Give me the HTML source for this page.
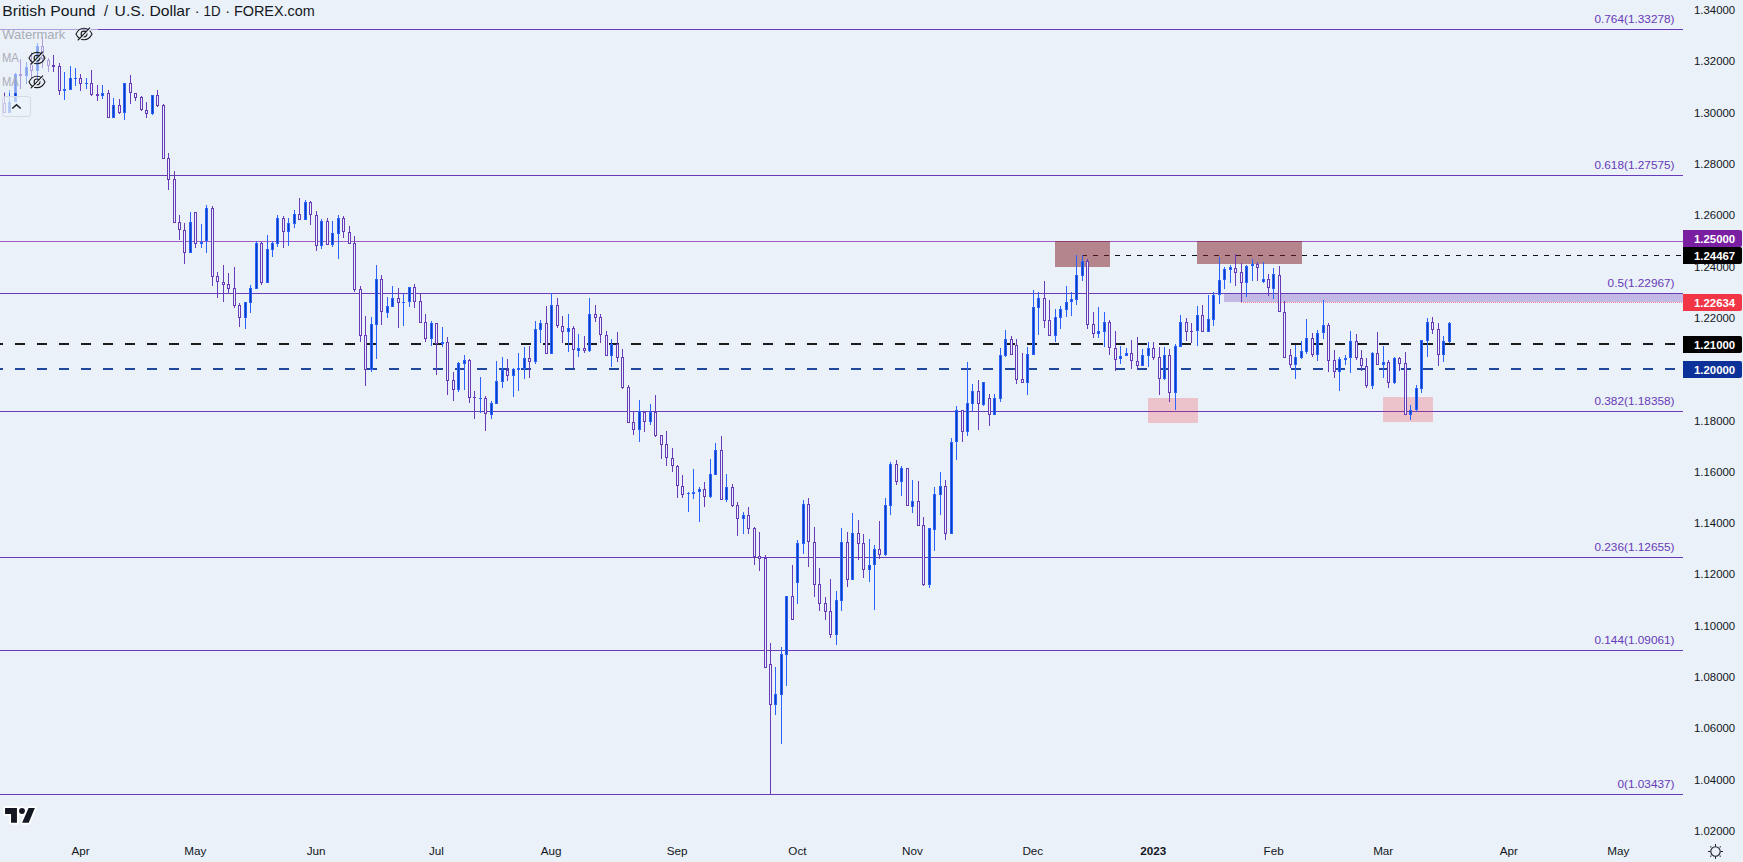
<!DOCTYPE html>
<html><head><meta charset="utf-8"><title>GBPUSD</title>
<style>html,body{margin:0;padding:0;background:#eaf1f9;}body{width:1743px;height:862px;overflow:hidden;position:relative;font-family:"Liberation Sans", Arial, sans-serif;}</style>
</head><body>
<svg width="1743" height="862" viewBox="0 0 1743 862" style="position:absolute;left:0;top:0" font-family="'Liberation Sans', Arial, sans-serif">
<rect x="0" y="0" width="1743" height="862" fill="#eaf1f9"/>
<g shape-rendering="crispEdges">
<rect x="0" y="241" width="1683" height="1" fill="#a05cc4"/>
<rect x="0" y="343" width="3" height="2" fill="#1c1c1c"/><rect x="15" y="343" width="10" height="2" fill="#1c1c1c"/><rect x="37" y="343" width="10" height="2" fill="#1c1c1c"/><rect x="59" y="343" width="10" height="2" fill="#1c1c1c"/><rect x="81" y="343" width="10" height="2" fill="#1c1c1c"/><rect x="103" y="343" width="10" height="2" fill="#1c1c1c"/><rect x="125" y="343" width="10" height="2" fill="#1c1c1c"/><rect x="147" y="343" width="10" height="2" fill="#1c1c1c"/><rect x="169" y="343" width="10" height="2" fill="#1c1c1c"/><rect x="191" y="343" width="10" height="2" fill="#1c1c1c"/><rect x="213" y="343" width="10" height="2" fill="#1c1c1c"/><rect x="235" y="343" width="10" height="2" fill="#1c1c1c"/><rect x="257" y="343" width="10" height="2" fill="#1c1c1c"/><rect x="279" y="343" width="10" height="2" fill="#1c1c1c"/><rect x="301" y="343" width="10" height="2" fill="#1c1c1c"/><rect x="323" y="343" width="10" height="2" fill="#1c1c1c"/><rect x="345" y="343" width="10" height="2" fill="#1c1c1c"/><rect x="367" y="343" width="10" height="2" fill="#1c1c1c"/><rect x="389" y="343" width="10" height="2" fill="#1c1c1c"/><rect x="411" y="343" width="10" height="2" fill="#1c1c1c"/><rect x="433" y="343" width="10" height="2" fill="#1c1c1c"/><rect x="455" y="343" width="10" height="2" fill="#1c1c1c"/><rect x="477" y="343" width="10" height="2" fill="#1c1c1c"/><rect x="499" y="343" width="10" height="2" fill="#1c1c1c"/><rect x="521" y="343" width="10" height="2" fill="#1c1c1c"/><rect x="543" y="343" width="10" height="2" fill="#1c1c1c"/><rect x="565" y="343" width="10" height="2" fill="#1c1c1c"/><rect x="587" y="343" width="10" height="2" fill="#1c1c1c"/><rect x="609" y="343" width="10" height="2" fill="#1c1c1c"/><rect x="631" y="343" width="10" height="2" fill="#1c1c1c"/><rect x="653" y="343" width="10" height="2" fill="#1c1c1c"/><rect x="675" y="343" width="10" height="2" fill="#1c1c1c"/><rect x="697" y="343" width="10" height="2" fill="#1c1c1c"/><rect x="719" y="343" width="10" height="2" fill="#1c1c1c"/><rect x="741" y="343" width="10" height="2" fill="#1c1c1c"/><rect x="763" y="343" width="10" height="2" fill="#1c1c1c"/><rect x="785" y="343" width="10" height="2" fill="#1c1c1c"/><rect x="807" y="343" width="10" height="2" fill="#1c1c1c"/><rect x="829" y="343" width="10" height="2" fill="#1c1c1c"/><rect x="851" y="343" width="10" height="2" fill="#1c1c1c"/><rect x="873" y="343" width="10" height="2" fill="#1c1c1c"/><rect x="895" y="343" width="10" height="2" fill="#1c1c1c"/><rect x="917" y="343" width="10" height="2" fill="#1c1c1c"/><rect x="939" y="343" width="10" height="2" fill="#1c1c1c"/><rect x="961" y="343" width="10" height="2" fill="#1c1c1c"/><rect x="983" y="343" width="10" height="2" fill="#1c1c1c"/><rect x="1005" y="343" width="10" height="2" fill="#1c1c1c"/><rect x="1027" y="343" width="10" height="2" fill="#1c1c1c"/><rect x="1049" y="343" width="10" height="2" fill="#1c1c1c"/><rect x="1071" y="343" width="10" height="2" fill="#1c1c1c"/><rect x="1093" y="343" width="10" height="2" fill="#1c1c1c"/><rect x="1115" y="343" width="10" height="2" fill="#1c1c1c"/><rect x="1137" y="343" width="10" height="2" fill="#1c1c1c"/><rect x="1159" y="343" width="10" height="2" fill="#1c1c1c"/><rect x="1181" y="343" width="10" height="2" fill="#1c1c1c"/><rect x="1203" y="343" width="10" height="2" fill="#1c1c1c"/><rect x="1225" y="343" width="10" height="2" fill="#1c1c1c"/><rect x="1247" y="343" width="10" height="2" fill="#1c1c1c"/><rect x="1269" y="343" width="10" height="2" fill="#1c1c1c"/><rect x="1291" y="343" width="10" height="2" fill="#1c1c1c"/><rect x="1313" y="343" width="10" height="2" fill="#1c1c1c"/><rect x="1335" y="343" width="10" height="2" fill="#1c1c1c"/><rect x="1357" y="343" width="10" height="2" fill="#1c1c1c"/><rect x="1379" y="343" width="10" height="2" fill="#1c1c1c"/><rect x="1401" y="343" width="10" height="2" fill="#1c1c1c"/><rect x="1423" y="343" width="10" height="2" fill="#1c1c1c"/><rect x="1445" y="343" width="10" height="2" fill="#1c1c1c"/><rect x="1467" y="343" width="10" height="2" fill="#1c1c1c"/><rect x="1489" y="343" width="10" height="2" fill="#1c1c1c"/><rect x="1511" y="343" width="10" height="2" fill="#1c1c1c"/><rect x="1533" y="343" width="10" height="2" fill="#1c1c1c"/><rect x="1555" y="343" width="10" height="2" fill="#1c1c1c"/><rect x="1577" y="343" width="10" height="2" fill="#1c1c1c"/><rect x="1599" y="343" width="10" height="2" fill="#1c1c1c"/><rect x="1621" y="343" width="10" height="2" fill="#1c1c1c"/><rect x="1643" y="343" width="10" height="2" fill="#1c1c1c"/><rect x="1665" y="343" width="10" height="2" fill="#1c1c1c"/>
<rect x="0" y="368" width="3" height="2" fill="#22479e"/><rect x="15" y="368" width="10" height="2" fill="#22479e"/><rect x="37" y="368" width="10" height="2" fill="#22479e"/><rect x="59" y="368" width="10" height="2" fill="#22479e"/><rect x="81" y="368" width="10" height="2" fill="#22479e"/><rect x="103" y="368" width="10" height="2" fill="#22479e"/><rect x="125" y="368" width="10" height="2" fill="#22479e"/><rect x="147" y="368" width="10" height="2" fill="#22479e"/><rect x="169" y="368" width="10" height="2" fill="#22479e"/><rect x="191" y="368" width="10" height="2" fill="#22479e"/><rect x="213" y="368" width="10" height="2" fill="#22479e"/><rect x="235" y="368" width="10" height="2" fill="#22479e"/><rect x="257" y="368" width="10" height="2" fill="#22479e"/><rect x="279" y="368" width="10" height="2" fill="#22479e"/><rect x="301" y="368" width="10" height="2" fill="#22479e"/><rect x="323" y="368" width="10" height="2" fill="#22479e"/><rect x="345" y="368" width="10" height="2" fill="#22479e"/><rect x="367" y="368" width="10" height="2" fill="#22479e"/><rect x="389" y="368" width="10" height="2" fill="#22479e"/><rect x="411" y="368" width="10" height="2" fill="#22479e"/><rect x="433" y="368" width="10" height="2" fill="#22479e"/><rect x="455" y="368" width="10" height="2" fill="#22479e"/><rect x="477" y="368" width="10" height="2" fill="#22479e"/><rect x="499" y="368" width="10" height="2" fill="#22479e"/><rect x="521" y="368" width="10" height="2" fill="#22479e"/><rect x="543" y="368" width="10" height="2" fill="#22479e"/><rect x="565" y="368" width="10" height="2" fill="#22479e"/><rect x="587" y="368" width="10" height="2" fill="#22479e"/><rect x="609" y="368" width="10" height="2" fill="#22479e"/><rect x="631" y="368" width="10" height="2" fill="#22479e"/><rect x="653" y="368" width="10" height="2" fill="#22479e"/><rect x="675" y="368" width="10" height="2" fill="#22479e"/><rect x="697" y="368" width="10" height="2" fill="#22479e"/><rect x="719" y="368" width="10" height="2" fill="#22479e"/><rect x="741" y="368" width="10" height="2" fill="#22479e"/><rect x="763" y="368" width="10" height="2" fill="#22479e"/><rect x="785" y="368" width="10" height="2" fill="#22479e"/><rect x="807" y="368" width="10" height="2" fill="#22479e"/><rect x="829" y="368" width="10" height="2" fill="#22479e"/><rect x="851" y="368" width="10" height="2" fill="#22479e"/><rect x="873" y="368" width="10" height="2" fill="#22479e"/><rect x="895" y="368" width="10" height="2" fill="#22479e"/><rect x="917" y="368" width="10" height="2" fill="#22479e"/><rect x="939" y="368" width="10" height="2" fill="#22479e"/><rect x="961" y="368" width="10" height="2" fill="#22479e"/><rect x="983" y="368" width="10" height="2" fill="#22479e"/><rect x="1005" y="368" width="10" height="2" fill="#22479e"/><rect x="1027" y="368" width="10" height="2" fill="#22479e"/><rect x="1049" y="368" width="10" height="2" fill="#22479e"/><rect x="1071" y="368" width="10" height="2" fill="#22479e"/><rect x="1093" y="368" width="10" height="2" fill="#22479e"/><rect x="1115" y="368" width="10" height="2" fill="#22479e"/><rect x="1137" y="368" width="10" height="2" fill="#22479e"/><rect x="1159" y="368" width="10" height="2" fill="#22479e"/><rect x="1181" y="368" width="10" height="2" fill="#22479e"/><rect x="1203" y="368" width="10" height="2" fill="#22479e"/><rect x="1225" y="368" width="10" height="2" fill="#22479e"/><rect x="1247" y="368" width="10" height="2" fill="#22479e"/><rect x="1269" y="368" width="10" height="2" fill="#22479e"/><rect x="1291" y="368" width="10" height="2" fill="#22479e"/><rect x="1313" y="368" width="10" height="2" fill="#22479e"/><rect x="1335" y="368" width="10" height="2" fill="#22479e"/><rect x="1357" y="368" width="10" height="2" fill="#22479e"/><rect x="1379" y="368" width="10" height="2" fill="#22479e"/><rect x="1401" y="368" width="10" height="2" fill="#22479e"/><rect x="1423" y="368" width="10" height="2" fill="#22479e"/><rect x="1445" y="368" width="10" height="2" fill="#22479e"/><rect x="1467" y="368" width="10" height="2" fill="#22479e"/><rect x="1489" y="368" width="10" height="2" fill="#22479e"/><rect x="1511" y="368" width="10" height="2" fill="#22479e"/><rect x="1533" y="368" width="10" height="2" fill="#22479e"/><rect x="1555" y="368" width="10" height="2" fill="#22479e"/><rect x="1577" y="368" width="10" height="2" fill="#22479e"/><rect x="1599" y="368" width="10" height="2" fill="#22479e"/><rect x="1621" y="368" width="10" height="2" fill="#22479e"/><rect x="1643" y="368" width="10" height="2" fill="#22479e"/><rect x="1665" y="368" width="10" height="2" fill="#22479e"/>
</g>
<g shape-rendering="crispEdges">
<rect x="0" y="29" width="1683" height="1" fill="#673ab7"/>
<rect x="0" y="175" width="1683" height="1" fill="#673ab7"/>
<rect x="0" y="293" width="1683" height="1" fill="#673ab7"/>
<rect x="0" y="411" width="1683" height="1" fill="#673ab7"/>
<rect x="0" y="557" width="1683" height="1" fill="#673ab7"/>
<rect x="0" y="650" width="1683" height="1" fill="#673ab7"/>
<rect x="0" y="794" width="1683" height="1" fill="#673ab7"/>
<rect x="1224" y="294" width="459" height="8" fill="rgba(103,58,183,0.3)"/>
<rect x="1241" y="302" width="1" height="1" fill="#f23645" fill-opacity="0.6"/><rect x="1243" y="302" width="1" height="1" fill="#f23645" fill-opacity="0.6"/><rect x="1245" y="302" width="1" height="1" fill="#f23645" fill-opacity="0.6"/><rect x="1247" y="302" width="1" height="1" fill="#f23645" fill-opacity="0.6"/><rect x="1249" y="302" width="1" height="1" fill="#f23645" fill-opacity="0.6"/><rect x="1251" y="302" width="1" height="1" fill="#f23645" fill-opacity="0.6"/><rect x="1253" y="302" width="1" height="1" fill="#f23645" fill-opacity="0.6"/><rect x="1255" y="302" width="1" height="1" fill="#f23645" fill-opacity="0.6"/><rect x="1257" y="302" width="1" height="1" fill="#f23645" fill-opacity="0.6"/><rect x="1259" y="302" width="1" height="1" fill="#f23645" fill-opacity="0.6"/><rect x="1261" y="302" width="1" height="1" fill="#f23645" fill-opacity="0.6"/><rect x="1263" y="302" width="1" height="1" fill="#f23645" fill-opacity="0.6"/><rect x="1265" y="302" width="1" height="1" fill="#f23645" fill-opacity="0.6"/><rect x="1267" y="302" width="1" height="1" fill="#f23645" fill-opacity="0.6"/><rect x="1269" y="302" width="1" height="1" fill="#f23645" fill-opacity="0.6"/><rect x="1271" y="302" width="1" height="1" fill="#f23645" fill-opacity="0.6"/><rect x="1273" y="302" width="1" height="1" fill="#f23645" fill-opacity="0.6"/><rect x="1275" y="302" width="1" height="1" fill="#f23645" fill-opacity="0.6"/><rect x="1277" y="302" width="1" height="1" fill="#f23645" fill-opacity="0.6"/><rect x="1279" y="302" width="1" height="1" fill="#f23645" fill-opacity="0.6"/><rect x="1281" y="302" width="1" height="1" fill="#f23645" fill-opacity="0.6"/><rect x="1283" y="302" width="1" height="1" fill="#f23645" fill-opacity="0.6"/><rect x="1285" y="302" width="1" height="1" fill="#f23645" fill-opacity="0.6"/><rect x="1287" y="302" width="1" height="1" fill="#f23645" fill-opacity="0.6"/><rect x="1289" y="302" width="1" height="1" fill="#f23645" fill-opacity="0.6"/><rect x="1291" y="302" width="1" height="1" fill="#f23645" fill-opacity="0.6"/><rect x="1293" y="302" width="1" height="1" fill="#f23645" fill-opacity="0.6"/><rect x="1295" y="302" width="1" height="1" fill="#f23645" fill-opacity="0.6"/><rect x="1297" y="302" width="1" height="1" fill="#f23645" fill-opacity="0.6"/><rect x="1299" y="302" width="1" height="1" fill="#f23645" fill-opacity="0.6"/><rect x="1301" y="302" width="1" height="1" fill="#f23645" fill-opacity="0.6"/><rect x="1303" y="302" width="1" height="1" fill="#f23645" fill-opacity="0.6"/><rect x="1305" y="302" width="1" height="1" fill="#f23645" fill-opacity="0.6"/><rect x="1307" y="302" width="1" height="1" fill="#f23645" fill-opacity="0.6"/><rect x="1309" y="302" width="1" height="1" fill="#f23645" fill-opacity="0.6"/><rect x="1311" y="302" width="1" height="1" fill="#f23645" fill-opacity="0.6"/><rect x="1313" y="302" width="1" height="1" fill="#f23645" fill-opacity="0.6"/><rect x="1315" y="302" width="1" height="1" fill="#f23645" fill-opacity="0.6"/><rect x="1317" y="302" width="1" height="1" fill="#f23645" fill-opacity="0.6"/><rect x="1319" y="302" width="1" height="1" fill="#f23645" fill-opacity="0.6"/><rect x="1321" y="302" width="1" height="1" fill="#f23645" fill-opacity="0.6"/><rect x="1323" y="302" width="1" height="1" fill="#f23645" fill-opacity="0.6"/><rect x="1325" y="302" width="1" height="1" fill="#f23645" fill-opacity="0.6"/><rect x="1327" y="302" width="1" height="1" fill="#f23645" fill-opacity="0.6"/><rect x="1329" y="302" width="1" height="1" fill="#f23645" fill-opacity="0.6"/><rect x="1331" y="302" width="1" height="1" fill="#f23645" fill-opacity="0.6"/><rect x="1333" y="302" width="1" height="1" fill="#f23645" fill-opacity="0.6"/><rect x="1335" y="302" width="1" height="1" fill="#f23645" fill-opacity="0.6"/><rect x="1337" y="302" width="1" height="1" fill="#f23645" fill-opacity="0.6"/><rect x="1339" y="302" width="1" height="1" fill="#f23645" fill-opacity="0.6"/><rect x="1341" y="302" width="1" height="1" fill="#f23645" fill-opacity="0.6"/><rect x="1343" y="302" width="1" height="1" fill="#f23645" fill-opacity="0.6"/><rect x="1345" y="302" width="1" height="1" fill="#f23645" fill-opacity="0.6"/><rect x="1347" y="302" width="1" height="1" fill="#f23645" fill-opacity="0.6"/><rect x="1349" y="302" width="1" height="1" fill="#f23645" fill-opacity="0.6"/><rect x="1351" y="302" width="1" height="1" fill="#f23645" fill-opacity="0.6"/><rect x="1353" y="302" width="1" height="1" fill="#f23645" fill-opacity="0.6"/><rect x="1355" y="302" width="1" height="1" fill="#f23645" fill-opacity="0.6"/><rect x="1357" y="302" width="1" height="1" fill="#f23645" fill-opacity="0.6"/><rect x="1359" y="302" width="1" height="1" fill="#f23645" fill-opacity="0.6"/><rect x="1361" y="302" width="1" height="1" fill="#f23645" fill-opacity="0.6"/><rect x="1363" y="302" width="1" height="1" fill="#f23645" fill-opacity="0.6"/><rect x="1365" y="302" width="1" height="1" fill="#f23645" fill-opacity="0.6"/><rect x="1367" y="302" width="1" height="1" fill="#f23645" fill-opacity="0.6"/><rect x="1369" y="302" width="1" height="1" fill="#f23645" fill-opacity="0.6"/><rect x="1371" y="302" width="1" height="1" fill="#f23645" fill-opacity="0.6"/><rect x="1373" y="302" width="1" height="1" fill="#f23645" fill-opacity="0.6"/><rect x="1375" y="302" width="1" height="1" fill="#f23645" fill-opacity="0.6"/><rect x="1377" y="302" width="1" height="1" fill="#f23645" fill-opacity="0.6"/><rect x="1379" y="302" width="1" height="1" fill="#f23645" fill-opacity="0.6"/><rect x="1381" y="302" width="1" height="1" fill="#f23645" fill-opacity="0.6"/><rect x="1383" y="302" width="1" height="1" fill="#f23645" fill-opacity="0.6"/><rect x="1385" y="302" width="1" height="1" fill="#f23645" fill-opacity="0.6"/><rect x="1387" y="302" width="1" height="1" fill="#f23645" fill-opacity="0.6"/><rect x="1389" y="302" width="1" height="1" fill="#f23645" fill-opacity="0.6"/><rect x="1391" y="302" width="1" height="1" fill="#f23645" fill-opacity="0.6"/><rect x="1393" y="302" width="1" height="1" fill="#f23645" fill-opacity="0.6"/><rect x="1395" y="302" width="1" height="1" fill="#f23645" fill-opacity="0.6"/><rect x="1397" y="302" width="1" height="1" fill="#f23645" fill-opacity="0.6"/><rect x="1399" y="302" width="1" height="1" fill="#f23645" fill-opacity="0.6"/><rect x="1401" y="302" width="1" height="1" fill="#f23645" fill-opacity="0.6"/><rect x="1403" y="302" width="1" height="1" fill="#f23645" fill-opacity="0.6"/><rect x="1405" y="302" width="1" height="1" fill="#f23645" fill-opacity="0.6"/><rect x="1407" y="302" width="1" height="1" fill="#f23645" fill-opacity="0.6"/><rect x="1409" y="302" width="1" height="1" fill="#f23645" fill-opacity="0.6"/><rect x="1411" y="302" width="1" height="1" fill="#f23645" fill-opacity="0.6"/><rect x="1413" y="302" width="1" height="1" fill="#f23645" fill-opacity="0.6"/><rect x="1415" y="302" width="1" height="1" fill="#f23645" fill-opacity="0.6"/><rect x="1417" y="302" width="1" height="1" fill="#f23645" fill-opacity="0.6"/><rect x="1419" y="302" width="1" height="1" fill="#f23645" fill-opacity="0.6"/><rect x="1421" y="302" width="1" height="1" fill="#f23645" fill-opacity="0.6"/><rect x="1423" y="302" width="1" height="1" fill="#f23645" fill-opacity="0.6"/><rect x="1425" y="302" width="1" height="1" fill="#f23645" fill-opacity="0.6"/><rect x="1427" y="302" width="1" height="1" fill="#f23645" fill-opacity="0.6"/><rect x="1429" y="302" width="1" height="1" fill="#f23645" fill-opacity="0.6"/><rect x="1431" y="302" width="1" height="1" fill="#f23645" fill-opacity="0.6"/><rect x="1433" y="302" width="1" height="1" fill="#f23645" fill-opacity="0.6"/><rect x="1435" y="302" width="1" height="1" fill="#f23645" fill-opacity="0.6"/><rect x="1437" y="302" width="1" height="1" fill="#f23645" fill-opacity="0.6"/><rect x="1439" y="302" width="1" height="1" fill="#f23645" fill-opacity="0.6"/><rect x="1441" y="302" width="1" height="1" fill="#f23645" fill-opacity="0.6"/><rect x="1443" y="302" width="1" height="1" fill="#f23645" fill-opacity="0.6"/><rect x="1445" y="302" width="1" height="1" fill="#f23645" fill-opacity="0.6"/><rect x="1447" y="302" width="1" height="1" fill="#f23645" fill-opacity="0.6"/><rect x="1449" y="302" width="1" height="1" fill="#f23645" fill-opacity="0.6"/><rect x="1451" y="302" width="1" height="1" fill="#f23645" fill-opacity="0.6"/><rect x="1453" y="302" width="1" height="1" fill="#f23645" fill-opacity="0.6"/><rect x="1455" y="302" width="1" height="1" fill="#f23645" fill-opacity="0.6"/><rect x="1457" y="302" width="1" height="1" fill="#f23645" fill-opacity="0.6"/><rect x="1459" y="302" width="1" height="1" fill="#f23645" fill-opacity="0.6"/><rect x="1461" y="302" width="1" height="1" fill="#f23645" fill-opacity="0.6"/><rect x="1463" y="302" width="1" height="1" fill="#f23645" fill-opacity="0.6"/><rect x="1465" y="302" width="1" height="1" fill="#f23645" fill-opacity="0.6"/><rect x="1467" y="302" width="1" height="1" fill="#f23645" fill-opacity="0.6"/><rect x="1469" y="302" width="1" height="1" fill="#f23645" fill-opacity="0.6"/><rect x="1471" y="302" width="1" height="1" fill="#f23645" fill-opacity="0.6"/><rect x="1473" y="302" width="1" height="1" fill="#f23645" fill-opacity="0.6"/><rect x="1475" y="302" width="1" height="1" fill="#f23645" fill-opacity="0.6"/><rect x="1477" y="302" width="1" height="1" fill="#f23645" fill-opacity="0.6"/><rect x="1479" y="302" width="1" height="1" fill="#f23645" fill-opacity="0.6"/><rect x="1481" y="302" width="1" height="1" fill="#f23645" fill-opacity="0.6"/><rect x="1483" y="302" width="1" height="1" fill="#f23645" fill-opacity="0.6"/><rect x="1485" y="302" width="1" height="1" fill="#f23645" fill-opacity="0.6"/><rect x="1487" y="302" width="1" height="1" fill="#f23645" fill-opacity="0.6"/><rect x="1489" y="302" width="1" height="1" fill="#f23645" fill-opacity="0.6"/><rect x="1491" y="302" width="1" height="1" fill="#f23645" fill-opacity="0.6"/><rect x="1493" y="302" width="1" height="1" fill="#f23645" fill-opacity="0.6"/><rect x="1495" y="302" width="1" height="1" fill="#f23645" fill-opacity="0.6"/><rect x="1497" y="302" width="1" height="1" fill="#f23645" fill-opacity="0.6"/><rect x="1499" y="302" width="1" height="1" fill="#f23645" fill-opacity="0.6"/><rect x="1501" y="302" width="1" height="1" fill="#f23645" fill-opacity="0.6"/><rect x="1503" y="302" width="1" height="1" fill="#f23645" fill-opacity="0.6"/><rect x="1505" y="302" width="1" height="1" fill="#f23645" fill-opacity="0.6"/><rect x="1507" y="302" width="1" height="1" fill="#f23645" fill-opacity="0.6"/><rect x="1509" y="302" width="1" height="1" fill="#f23645" fill-opacity="0.6"/><rect x="1511" y="302" width="1" height="1" fill="#f23645" fill-opacity="0.6"/><rect x="1513" y="302" width="1" height="1" fill="#f23645" fill-opacity="0.6"/><rect x="1515" y="302" width="1" height="1" fill="#f23645" fill-opacity="0.6"/><rect x="1517" y="302" width="1" height="1" fill="#f23645" fill-opacity="0.6"/><rect x="1519" y="302" width="1" height="1" fill="#f23645" fill-opacity="0.6"/><rect x="1521" y="302" width="1" height="1" fill="#f23645" fill-opacity="0.6"/><rect x="1523" y="302" width="1" height="1" fill="#f23645" fill-opacity="0.6"/><rect x="1525" y="302" width="1" height="1" fill="#f23645" fill-opacity="0.6"/><rect x="1527" y="302" width="1" height="1" fill="#f23645" fill-opacity="0.6"/><rect x="1529" y="302" width="1" height="1" fill="#f23645" fill-opacity="0.6"/><rect x="1531" y="302" width="1" height="1" fill="#f23645" fill-opacity="0.6"/><rect x="1533" y="302" width="1" height="1" fill="#f23645" fill-opacity="0.6"/><rect x="1535" y="302" width="1" height="1" fill="#f23645" fill-opacity="0.6"/><rect x="1537" y="302" width="1" height="1" fill="#f23645" fill-opacity="0.6"/><rect x="1539" y="302" width="1" height="1" fill="#f23645" fill-opacity="0.6"/><rect x="1541" y="302" width="1" height="1" fill="#f23645" fill-opacity="0.6"/><rect x="1543" y="302" width="1" height="1" fill="#f23645" fill-opacity="0.6"/><rect x="1545" y="302" width="1" height="1" fill="#f23645" fill-opacity="0.6"/><rect x="1547" y="302" width="1" height="1" fill="#f23645" fill-opacity="0.6"/><rect x="1549" y="302" width="1" height="1" fill="#f23645" fill-opacity="0.6"/><rect x="1551" y="302" width="1" height="1" fill="#f23645" fill-opacity="0.6"/><rect x="1553" y="302" width="1" height="1" fill="#f23645" fill-opacity="0.6"/><rect x="1555" y="302" width="1" height="1" fill="#f23645" fill-opacity="0.6"/><rect x="1557" y="302" width="1" height="1" fill="#f23645" fill-opacity="0.6"/><rect x="1559" y="302" width="1" height="1" fill="#f23645" fill-opacity="0.6"/><rect x="1561" y="302" width="1" height="1" fill="#f23645" fill-opacity="0.6"/><rect x="1563" y="302" width="1" height="1" fill="#f23645" fill-opacity="0.6"/><rect x="1565" y="302" width="1" height="1" fill="#f23645" fill-opacity="0.6"/><rect x="1567" y="302" width="1" height="1" fill="#f23645" fill-opacity="0.6"/><rect x="1569" y="302" width="1" height="1" fill="#f23645" fill-opacity="0.6"/><rect x="1571" y="302" width="1" height="1" fill="#f23645" fill-opacity="0.6"/><rect x="1573" y="302" width="1" height="1" fill="#f23645" fill-opacity="0.6"/><rect x="1575" y="302" width="1" height="1" fill="#f23645" fill-opacity="0.6"/><rect x="1577" y="302" width="1" height="1" fill="#f23645" fill-opacity="0.6"/><rect x="1579" y="302" width="1" height="1" fill="#f23645" fill-opacity="0.6"/><rect x="1581" y="302" width="1" height="1" fill="#f23645" fill-opacity="0.6"/><rect x="1583" y="302" width="1" height="1" fill="#f23645" fill-opacity="0.6"/><rect x="1585" y="302" width="1" height="1" fill="#f23645" fill-opacity="0.6"/><rect x="1587" y="302" width="1" height="1" fill="#f23645" fill-opacity="0.6"/><rect x="1589" y="302" width="1" height="1" fill="#f23645" fill-opacity="0.6"/><rect x="1591" y="302" width="1" height="1" fill="#f23645" fill-opacity="0.6"/><rect x="1593" y="302" width="1" height="1" fill="#f23645" fill-opacity="0.6"/><rect x="1595" y="302" width="1" height="1" fill="#f23645" fill-opacity="0.6"/><rect x="1597" y="302" width="1" height="1" fill="#f23645" fill-opacity="0.6"/><rect x="1599" y="302" width="1" height="1" fill="#f23645" fill-opacity="0.6"/><rect x="1601" y="302" width="1" height="1" fill="#f23645" fill-opacity="0.6"/><rect x="1603" y="302" width="1" height="1" fill="#f23645" fill-opacity="0.6"/><rect x="1605" y="302" width="1" height="1" fill="#f23645" fill-opacity="0.6"/><rect x="1607" y="302" width="1" height="1" fill="#f23645" fill-opacity="0.6"/><rect x="1609" y="302" width="1" height="1" fill="#f23645" fill-opacity="0.6"/><rect x="1611" y="302" width="1" height="1" fill="#f23645" fill-opacity="0.6"/><rect x="1613" y="302" width="1" height="1" fill="#f23645" fill-opacity="0.6"/><rect x="1615" y="302" width="1" height="1" fill="#f23645" fill-opacity="0.6"/><rect x="1617" y="302" width="1" height="1" fill="#f23645" fill-opacity="0.6"/><rect x="1619" y="302" width="1" height="1" fill="#f23645" fill-opacity="0.6"/><rect x="1621" y="302" width="1" height="1" fill="#f23645" fill-opacity="0.6"/><rect x="1623" y="302" width="1" height="1" fill="#f23645" fill-opacity="0.6"/><rect x="1625" y="302" width="1" height="1" fill="#f23645" fill-opacity="0.6"/><rect x="1627" y="302" width="1" height="1" fill="#f23645" fill-opacity="0.6"/><rect x="1629" y="302" width="1" height="1" fill="#f23645" fill-opacity="0.6"/><rect x="1631" y="302" width="1" height="1" fill="#f23645" fill-opacity="0.6"/><rect x="1633" y="302" width="1" height="1" fill="#f23645" fill-opacity="0.6"/><rect x="1635" y="302" width="1" height="1" fill="#f23645" fill-opacity="0.6"/><rect x="1637" y="302" width="1" height="1" fill="#f23645" fill-opacity="0.6"/><rect x="1639" y="302" width="1" height="1" fill="#f23645" fill-opacity="0.6"/><rect x="1641" y="302" width="1" height="1" fill="#f23645" fill-opacity="0.6"/><rect x="1643" y="302" width="1" height="1" fill="#f23645" fill-opacity="0.6"/><rect x="1645" y="302" width="1" height="1" fill="#f23645" fill-opacity="0.6"/><rect x="1647" y="302" width="1" height="1" fill="#f23645" fill-opacity="0.6"/><rect x="1649" y="302" width="1" height="1" fill="#f23645" fill-opacity="0.6"/><rect x="1651" y="302" width="1" height="1" fill="#f23645" fill-opacity="0.6"/><rect x="1653" y="302" width="1" height="1" fill="#f23645" fill-opacity="0.6"/><rect x="1655" y="302" width="1" height="1" fill="#f23645" fill-opacity="0.6"/><rect x="1657" y="302" width="1" height="1" fill="#f23645" fill-opacity="0.6"/><rect x="1659" y="302" width="1" height="1" fill="#f23645" fill-opacity="0.6"/><rect x="1661" y="302" width="1" height="1" fill="#f23645" fill-opacity="0.6"/><rect x="1663" y="302" width="1" height="1" fill="#f23645" fill-opacity="0.6"/><rect x="1665" y="302" width="1" height="1" fill="#f23645" fill-opacity="0.6"/><rect x="1667" y="302" width="1" height="1" fill="#f23645" fill-opacity="0.6"/><rect x="1669" y="302" width="1" height="1" fill="#f23645" fill-opacity="0.6"/><rect x="1671" y="302" width="1" height="1" fill="#f23645" fill-opacity="0.6"/><rect x="1673" y="302" width="1" height="1" fill="#f23645" fill-opacity="0.6"/><rect x="1675" y="302" width="1" height="1" fill="#f23645" fill-opacity="0.6"/><rect x="1677" y="302" width="1" height="1" fill="#f23645" fill-opacity="0.6"/><rect x="1679" y="302" width="1" height="1" fill="#f23645" fill-opacity="0.6"/><rect x="1681" y="302" width="1" height="1" fill="#f23645" fill-opacity="0.6"/>
<rect x="1083" y="255" width="4" height="1" fill="#111"/><rect x="1093" y="255" width="5" height="1" fill="#111"/><rect x="1104" y="255" width="5" height="1" fill="#111"/><rect x="1115" y="255" width="5" height="1" fill="#111"/><rect x="1126" y="255" width="5" height="1" fill="#111"/><rect x="1137" y="255" width="5" height="1" fill="#111"/><rect x="1148" y="255" width="5" height="1" fill="#111"/><rect x="1159" y="255" width="5" height="1" fill="#111"/><rect x="1170" y="255" width="5" height="1" fill="#111"/><rect x="1181" y="255" width="5" height="1" fill="#111"/><rect x="1192" y="255" width="5" height="1" fill="#111"/><rect x="1203" y="255" width="5" height="1" fill="#111"/><rect x="1214" y="255" width="5" height="1" fill="#111"/><rect x="1225" y="255" width="5" height="1" fill="#111"/><rect x="1236" y="255" width="5" height="1" fill="#111"/><rect x="1247" y="255" width="5" height="1" fill="#111"/><rect x="1258" y="255" width="5" height="1" fill="#111"/><rect x="1269" y="255" width="5" height="1" fill="#111"/><rect x="1280" y="255" width="5" height="1" fill="#111"/><rect x="1291" y="255" width="5" height="1" fill="#111"/><rect x="1302" y="255" width="5" height="1" fill="#111"/><rect x="1313" y="255" width="5" height="1" fill="#111"/><rect x="1324" y="255" width="5" height="1" fill="#111"/><rect x="1335" y="255" width="5" height="1" fill="#111"/><rect x="1346" y="255" width="5" height="1" fill="#111"/><rect x="1357" y="255" width="5" height="1" fill="#111"/><rect x="1368" y="255" width="5" height="1" fill="#111"/><rect x="1379" y="255" width="5" height="1" fill="#111"/><rect x="1390" y="255" width="5" height="1" fill="#111"/><rect x="1401" y="255" width="5" height="1" fill="#111"/><rect x="1412" y="255" width="5" height="1" fill="#111"/><rect x="1423" y="255" width="5" height="1" fill="#111"/><rect x="1434" y="255" width="5" height="1" fill="#111"/><rect x="1445" y="255" width="5" height="1" fill="#111"/><rect x="1456" y="255" width="5" height="1" fill="#111"/><rect x="1467" y="255" width="5" height="1" fill="#111"/><rect x="1478" y="255" width="5" height="1" fill="#111"/><rect x="1489" y="255" width="5" height="1" fill="#111"/><rect x="1500" y="255" width="5" height="1" fill="#111"/><rect x="1511" y="255" width="5" height="1" fill="#111"/><rect x="1522" y="255" width="5" height="1" fill="#111"/><rect x="1533" y="255" width="5" height="1" fill="#111"/><rect x="1544" y="255" width="5" height="1" fill="#111"/><rect x="1555" y="255" width="5" height="1" fill="#111"/><rect x="1566" y="255" width="5" height="1" fill="#111"/><rect x="1577" y="255" width="5" height="1" fill="#111"/><rect x="1588" y="255" width="5" height="1" fill="#111"/><rect x="1599" y="255" width="5" height="1" fill="#111"/><rect x="1610" y="255" width="5" height="1" fill="#111"/><rect x="1621" y="255" width="5" height="1" fill="#111"/><rect x="1632" y="255" width="5" height="1" fill="#111"/><rect x="1643" y="255" width="5" height="1" fill="#111"/><rect x="1654" y="255" width="5" height="1" fill="#111"/><rect x="1665" y="255" width="5" height="1" fill="#111"/><rect x="1676" y="255" width="5" height="1" fill="#111"/>
<rect x="1055" y="241" width="55" height="26" fill="rgba(128,25,34,0.5)"/>
<rect x="1197" y="241" width="105" height="23" fill="rgba(128,25,34,0.5)"/>
<rect x="1148" y="398" width="50" height="25" fill="rgba(242,54,69,0.25)"/>
<rect x="1383" y="397" width="50" height="25" fill="rgba(242,54,69,0.25)"/>
</g>
<g shape-rendering="crispEdges">
<rect x="4" y="92" width="1" height="21" fill="#673ab7"/>
<rect x="3" y="103" width="3" height="10" fill="#673ab7"/>
<rect x="4" y="104" width="1" height="8" fill="#eaf1f9"/>
<rect x="9" y="90" width="1" height="23" fill="#2962ff"/>
<rect x="8" y="102" width="3" height="11" fill="#2962ff"/>
<rect x="9" y="103" width="1" height="9" fill="#0c3fb3"/>
<rect x="15" y="73" width="1" height="29" fill="#2962ff"/>
<rect x="14" y="74" width="3" height="28" fill="#2962ff"/>
<rect x="15" y="75" width="1" height="26" fill="#0c3fb3"/>
<rect x="20" y="59" width="1" height="30" fill="#673ab7"/>
<rect x="19" y="74" width="3" height="2" fill="#673ab7"/>
<rect x="26" y="62" width="1" height="22" fill="#2962ff"/>
<rect x="25" y="67" width="3" height="9" fill="#2962ff"/>
<rect x="26" y="68" width="1" height="7" fill="#0c3fb3"/>
<rect x="31" y="52" width="1" height="26" fill="#673ab7"/>
<rect x="30" y="63" width="3" height="8" fill="#673ab7"/>
<rect x="31" y="64" width="1" height="6" fill="#eaf1f9"/>
<rect x="37" y="43" width="1" height="37" fill="#2962ff"/>
<rect x="36" y="46" width="3" height="25" fill="#2962ff"/>
<rect x="37" y="47" width="1" height="23" fill="#0c3fb3"/>
<rect x="42" y="37" width="1" height="31" fill="#673ab7"/>
<rect x="41" y="46" width="3" height="13" fill="#673ab7"/>
<rect x="42" y="47" width="1" height="11" fill="#eaf1f9"/>
<rect x="48" y="58" width="1" height="14" fill="#673ab7"/>
<rect x="47" y="60" width="3" height="6" fill="#673ab7"/>
<rect x="48" y="61" width="1" height="4" fill="#eaf1f9"/>
<rect x="53" y="55" width="1" height="17" fill="#673ab7"/>
<rect x="52" y="65" width="3" height="2" fill="#673ab7"/>
<rect x="59" y="63" width="1" height="32" fill="#673ab7"/>
<rect x="58" y="66" width="3" height="25" fill="#673ab7"/>
<rect x="59" y="67" width="1" height="23" fill="#eaf1f9"/>
<rect x="64" y="72" width="1" height="28" fill="#2962ff"/>
<rect x="63" y="89" width="3" height="2" fill="#2962ff"/>
<rect x="70" y="66" width="1" height="24" fill="#2962ff"/>
<rect x="69" y="78" width="3" height="12" fill="#2962ff"/>
<rect x="70" y="79" width="1" height="10" fill="#0c3fb3"/>
<rect x="75" y="68" width="1" height="18" fill="#2962ff"/>
<rect x="74" y="78" width="3" height="1" fill="#2962ff"/>
<rect x="80" y="74" width="1" height="17" fill="#673ab7"/>
<rect x="79" y="78" width="3" height="6" fill="#673ab7"/>
<rect x="80" y="79" width="1" height="4" fill="#eaf1f9"/>
<rect x="86" y="78" width="1" height="11" fill="#2962ff"/>
<rect x="85" y="83" width="3" height="1" fill="#2962ff"/>
<rect x="91" y="70" width="1" height="26" fill="#673ab7"/>
<rect x="90" y="83" width="3" height="12" fill="#673ab7"/>
<rect x="91" y="84" width="1" height="10" fill="#eaf1f9"/>
<rect x="97" y="85" width="1" height="16" fill="#673ab7"/>
<rect x="96" y="94" width="3" height="2" fill="#673ab7"/>
<rect x="102" y="85" width="1" height="14" fill="#2962ff"/>
<rect x="101" y="93" width="3" height="3" fill="#2962ff"/>
<rect x="102" y="94" width="1" height="1" fill="#0c3fb3"/>
<rect x="108" y="90" width="1" height="28" fill="#673ab7"/>
<rect x="107" y="93" width="3" height="25" fill="#673ab7"/>
<rect x="108" y="94" width="1" height="23" fill="#eaf1f9"/>
<rect x="113" y="98" width="1" height="20" fill="#2962ff"/>
<rect x="112" y="105" width="3" height="13" fill="#2962ff"/>
<rect x="113" y="106" width="1" height="11" fill="#0c3fb3"/>
<rect x="119" y="99" width="1" height="15" fill="#673ab7"/>
<rect x="118" y="105" width="3" height="8" fill="#673ab7"/>
<rect x="119" y="106" width="1" height="6" fill="#eaf1f9"/>
<rect x="124" y="83" width="1" height="37" fill="#2962ff"/>
<rect x="123" y="83" width="3" height="30" fill="#2962ff"/>
<rect x="124" y="84" width="1" height="28" fill="#0c3fb3"/>
<rect x="130" y="75" width="1" height="29" fill="#673ab7"/>
<rect x="129" y="83" width="3" height="10" fill="#673ab7"/>
<rect x="130" y="84" width="1" height="8" fill="#eaf1f9"/>
<rect x="135" y="93" width="1" height="8" fill="#673ab7"/>
<rect x="134" y="93" width="3" height="5" fill="#673ab7"/>
<rect x="135" y="94" width="1" height="3" fill="#eaf1f9"/>
<rect x="141" y="96" width="1" height="15" fill="#673ab7"/>
<rect x="140" y="97" width="3" height="13" fill="#673ab7"/>
<rect x="141" y="98" width="1" height="11" fill="#eaf1f9"/>
<rect x="146" y="102" width="1" height="16" fill="#673ab7"/>
<rect x="145" y="110" width="3" height="4" fill="#673ab7"/>
<rect x="146" y="111" width="1" height="2" fill="#eaf1f9"/>
<rect x="152" y="95" width="1" height="20" fill="#2962ff"/>
<rect x="151" y="95" width="3" height="19" fill="#2962ff"/>
<rect x="152" y="96" width="1" height="17" fill="#0c3fb3"/>
<rect x="157" y="90" width="1" height="17" fill="#673ab7"/>
<rect x="156" y="95" width="3" height="11" fill="#673ab7"/>
<rect x="157" y="96" width="1" height="9" fill="#eaf1f9"/>
<rect x="163" y="104" width="1" height="55" fill="#673ab7"/>
<rect x="162" y="105" width="3" height="54" fill="#673ab7"/>
<rect x="163" y="106" width="1" height="52" fill="#eaf1f9"/>
<rect x="168" y="153" width="1" height="37" fill="#673ab7"/>
<rect x="167" y="158" width="3" height="22" fill="#673ab7"/>
<rect x="168" y="159" width="1" height="20" fill="#eaf1f9"/>
<rect x="174" y="171" width="1" height="52" fill="#673ab7"/>
<rect x="173" y="179" width="3" height="44" fill="#673ab7"/>
<rect x="174" y="180" width="1" height="42" fill="#eaf1f9"/>
<rect x="179" y="215" width="1" height="25" fill="#673ab7"/>
<rect x="178" y="222" width="3" height="8" fill="#673ab7"/>
<rect x="179" y="223" width="1" height="6" fill="#eaf1f9"/>
<rect x="184" y="223" width="1" height="41" fill="#673ab7"/>
<rect x="183" y="230" width="3" height="23" fill="#673ab7"/>
<rect x="184" y="231" width="1" height="21" fill="#eaf1f9"/>
<rect x="190" y="212" width="1" height="41" fill="#2962ff"/>
<rect x="189" y="222" width="3" height="31" fill="#2962ff"/>
<rect x="190" y="223" width="1" height="29" fill="#0c3fb3"/>
<rect x="195" y="212" width="1" height="36" fill="#673ab7"/>
<rect x="194" y="212" width="3" height="32" fill="#673ab7"/>
<rect x="195" y="213" width="1" height="30" fill="#eaf1f9"/>
<rect x="201" y="224" width="1" height="24" fill="#2962ff"/>
<rect x="200" y="242" width="3" height="2" fill="#2962ff"/>
<rect x="206" y="205" width="1" height="48" fill="#2962ff"/>
<rect x="205" y="208" width="3" height="33" fill="#2962ff"/>
<rect x="206" y="209" width="1" height="31" fill="#0c3fb3"/>
<rect x="212" y="206" width="1" height="80" fill="#673ab7"/>
<rect x="211" y="208" width="3" height="69" fill="#673ab7"/>
<rect x="212" y="209" width="1" height="67" fill="#eaf1f9"/>
<rect x="217" y="272" width="1" height="26" fill="#673ab7"/>
<rect x="216" y="276" width="3" height="6" fill="#673ab7"/>
<rect x="217" y="277" width="1" height="4" fill="#eaf1f9"/>
<rect x="223" y="265" width="1" height="37" fill="#673ab7"/>
<rect x="222" y="282" width="3" height="3" fill="#673ab7"/>
<rect x="223" y="283" width="1" height="1" fill="#eaf1f9"/>
<rect x="228" y="273" width="1" height="20" fill="#673ab7"/>
<rect x="227" y="284" width="3" height="5" fill="#673ab7"/>
<rect x="228" y="285" width="1" height="3" fill="#eaf1f9"/>
<rect x="234" y="267" width="1" height="41" fill="#673ab7"/>
<rect x="233" y="288" width="3" height="18" fill="#673ab7"/>
<rect x="234" y="289" width="1" height="16" fill="#eaf1f9"/>
<rect x="239" y="303" width="1" height="24" fill="#673ab7"/>
<rect x="238" y="305" width="3" height="13" fill="#673ab7"/>
<rect x="239" y="306" width="1" height="11" fill="#eaf1f9"/>
<rect x="245" y="302" width="1" height="27" fill="#2962ff"/>
<rect x="244" y="302" width="3" height="16" fill="#2962ff"/>
<rect x="245" y="303" width="1" height="14" fill="#0c3fb3"/>
<rect x="250" y="285" width="1" height="28" fill="#2962ff"/>
<rect x="249" y="288" width="3" height="15" fill="#2962ff"/>
<rect x="250" y="289" width="1" height="13" fill="#0c3fb3"/>
<rect x="256" y="241" width="1" height="48" fill="#2962ff"/>
<rect x="255" y="243" width="3" height="46" fill="#2962ff"/>
<rect x="256" y="244" width="1" height="44" fill="#0c3fb3"/>
<rect x="261" y="242" width="1" height="43" fill="#673ab7"/>
<rect x="260" y="243" width="3" height="40" fill="#673ab7"/>
<rect x="261" y="244" width="1" height="38" fill="#eaf1f9"/>
<rect x="267" y="235" width="1" height="48" fill="#2962ff"/>
<rect x="266" y="249" width="3" height="34" fill="#2962ff"/>
<rect x="267" y="250" width="1" height="32" fill="#0c3fb3"/>
<rect x="272" y="241" width="1" height="16" fill="#2962ff"/>
<rect x="271" y="243" width="3" height="7" fill="#2962ff"/>
<rect x="272" y="244" width="1" height="5" fill="#0c3fb3"/>
<rect x="277" y="215" width="1" height="32" fill="#2962ff"/>
<rect x="276" y="218" width="3" height="26" fill="#2962ff"/>
<rect x="277" y="219" width="1" height="24" fill="#0c3fb3"/>
<rect x="283" y="216" width="1" height="32" fill="#673ab7"/>
<rect x="282" y="218" width="3" height="14" fill="#673ab7"/>
<rect x="283" y="219" width="1" height="12" fill="#eaf1f9"/>
<rect x="288" y="218" width="1" height="28" fill="#2962ff"/>
<rect x="287" y="223" width="3" height="9" fill="#2962ff"/>
<rect x="288" y="224" width="1" height="7" fill="#0c3fb3"/>
<rect x="294" y="210" width="1" height="18" fill="#2962ff"/>
<rect x="293" y="214" width="3" height="10" fill="#2962ff"/>
<rect x="294" y="215" width="1" height="8" fill="#0c3fb3"/>
<rect x="299" y="198" width="1" height="22" fill="#673ab7"/>
<rect x="298" y="214" width="3" height="6" fill="#673ab7"/>
<rect x="299" y="215" width="1" height="4" fill="#eaf1f9"/>
<rect x="305" y="200" width="1" height="20" fill="#2962ff"/>
<rect x="304" y="202" width="3" height="18" fill="#2962ff"/>
<rect x="305" y="203" width="1" height="16" fill="#0c3fb3"/>
<rect x="310" y="201" width="1" height="24" fill="#673ab7"/>
<rect x="309" y="202" width="3" height="13" fill="#673ab7"/>
<rect x="310" y="203" width="1" height="11" fill="#eaf1f9"/>
<rect x="316" y="211" width="1" height="40" fill="#673ab7"/>
<rect x="315" y="215" width="3" height="31" fill="#673ab7"/>
<rect x="316" y="216" width="1" height="29" fill="#eaf1f9"/>
<rect x="321" y="219" width="1" height="30" fill="#2962ff"/>
<rect x="320" y="221" width="3" height="25" fill="#2962ff"/>
<rect x="321" y="222" width="1" height="23" fill="#0c3fb3"/>
<rect x="327" y="218" width="1" height="27" fill="#673ab7"/>
<rect x="326" y="221" width="3" height="24" fill="#673ab7"/>
<rect x="327" y="222" width="1" height="22" fill="#eaf1f9"/>
<rect x="332" y="221" width="1" height="26" fill="#2962ff"/>
<rect x="331" y="233" width="3" height="12" fill="#2962ff"/>
<rect x="332" y="234" width="1" height="10" fill="#0c3fb3"/>
<rect x="338" y="215" width="1" height="44" fill="#2962ff"/>
<rect x="337" y="218" width="3" height="16" fill="#2962ff"/>
<rect x="338" y="219" width="1" height="14" fill="#0c3fb3"/>
<rect x="343" y="216" width="1" height="22" fill="#673ab7"/>
<rect x="342" y="218" width="3" height="14" fill="#673ab7"/>
<rect x="343" y="219" width="1" height="12" fill="#eaf1f9"/>
<rect x="349" y="226" width="1" height="18" fill="#673ab7"/>
<rect x="348" y="232" width="3" height="12" fill="#673ab7"/>
<rect x="349" y="233" width="1" height="10" fill="#eaf1f9"/>
<rect x="354" y="236" width="1" height="56" fill="#673ab7"/>
<rect x="353" y="243" width="3" height="47" fill="#673ab7"/>
<rect x="354" y="244" width="1" height="45" fill="#eaf1f9"/>
<rect x="360" y="286" width="1" height="56" fill="#673ab7"/>
<rect x="359" y="289" width="3" height="47" fill="#673ab7"/>
<rect x="360" y="290" width="1" height="45" fill="#eaf1f9"/>
<rect x="365" y="316" width="1" height="70" fill="#673ab7"/>
<rect x="364" y="335" width="3" height="35" fill="#673ab7"/>
<rect x="365" y="336" width="1" height="33" fill="#eaf1f9"/>
<rect x="371" y="317" width="1" height="55" fill="#2962ff"/>
<rect x="370" y="324" width="3" height="46" fill="#2962ff"/>
<rect x="371" y="325" width="1" height="44" fill="#0c3fb3"/>
<rect x="376" y="265" width="1" height="94" fill="#2962ff"/>
<rect x="375" y="279" width="3" height="46" fill="#2962ff"/>
<rect x="376" y="280" width="1" height="44" fill="#0c3fb3"/>
<rect x="381" y="275" width="1" height="50" fill="#673ab7"/>
<rect x="380" y="279" width="3" height="33" fill="#673ab7"/>
<rect x="381" y="280" width="1" height="31" fill="#eaf1f9"/>
<rect x="387" y="297" width="1" height="21" fill="#2962ff"/>
<rect x="386" y="306" width="3" height="7" fill="#2962ff"/>
<rect x="387" y="307" width="1" height="5" fill="#0c3fb3"/>
<rect x="392" y="286" width="1" height="21" fill="#2962ff"/>
<rect x="391" y="298" width="3" height="9" fill="#2962ff"/>
<rect x="392" y="299" width="1" height="7" fill="#0c3fb3"/>
<rect x="398" y="288" width="1" height="40" fill="#673ab7"/>
<rect x="397" y="298" width="3" height="5" fill="#673ab7"/>
<rect x="398" y="299" width="1" height="3" fill="#eaf1f9"/>
<rect x="403" y="294" width="1" height="32" fill="#2962ff"/>
<rect x="402" y="302" width="3" height="1" fill="#2962ff"/>
<rect x="409" y="287" width="1" height="20" fill="#2962ff"/>
<rect x="408" y="287" width="3" height="15" fill="#2962ff"/>
<rect x="409" y="288" width="1" height="13" fill="#0c3fb3"/>
<rect x="414" y="284" width="1" height="24" fill="#673ab7"/>
<rect x="413" y="287" width="3" height="15" fill="#673ab7"/>
<rect x="414" y="288" width="1" height="13" fill="#eaf1f9"/>
<rect x="420" y="294" width="1" height="29" fill="#673ab7"/>
<rect x="419" y="301" width="3" height="22" fill="#673ab7"/>
<rect x="420" y="302" width="1" height="20" fill="#eaf1f9"/>
<rect x="425" y="314" width="1" height="28" fill="#673ab7"/>
<rect x="424" y="322" width="3" height="17" fill="#673ab7"/>
<rect x="425" y="323" width="1" height="15" fill="#eaf1f9"/>
<rect x="431" y="321" width="1" height="25" fill="#2962ff"/>
<rect x="430" y="323" width="3" height="16" fill="#2962ff"/>
<rect x="431" y="324" width="1" height="14" fill="#0c3fb3"/>
<rect x="436" y="323" width="1" height="52" fill="#673ab7"/>
<rect x="435" y="323" width="3" height="21" fill="#673ab7"/>
<rect x="436" y="324" width="1" height="19" fill="#eaf1f9"/>
<rect x="442" y="327" width="1" height="20" fill="#2962ff"/>
<rect x="441" y="342" width="3" height="2" fill="#2962ff"/>
<rect x="447" y="337" width="1" height="58" fill="#673ab7"/>
<rect x="446" y="342" width="3" height="39" fill="#673ab7"/>
<rect x="447" y="343" width="1" height="37" fill="#eaf1f9"/>
<rect x="453" y="372" width="1" height="29" fill="#673ab7"/>
<rect x="452" y="380" width="3" height="10" fill="#673ab7"/>
<rect x="453" y="381" width="1" height="8" fill="#eaf1f9"/>
<rect x="458" y="362" width="1" height="30" fill="#2962ff"/>
<rect x="457" y="363" width="3" height="27" fill="#2962ff"/>
<rect x="458" y="364" width="1" height="25" fill="#0c3fb3"/>
<rect x="464" y="355" width="1" height="35" fill="#2962ff"/>
<rect x="463" y="360" width="3" height="4" fill="#2962ff"/>
<rect x="464" y="361" width="1" height="2" fill="#0c3fb3"/>
<rect x="469" y="359" width="1" height="44" fill="#673ab7"/>
<rect x="468" y="360" width="3" height="38" fill="#673ab7"/>
<rect x="469" y="361" width="1" height="36" fill="#eaf1f9"/>
<rect x="474" y="391" width="1" height="28" fill="#673ab7"/>
<rect x="473" y="397" width="3" height="1" fill="#673ab7"/>
<rect x="480" y="377" width="1" height="36" fill="#2962ff"/>
<rect x="479" y="398" width="3" height="1" fill="#2962ff"/>
<rect x="485" y="396" width="1" height="35" fill="#673ab7"/>
<rect x="484" y="398" width="3" height="16" fill="#673ab7"/>
<rect x="485" y="399" width="1" height="14" fill="#eaf1f9"/>
<rect x="491" y="401" width="1" height="18" fill="#2962ff"/>
<rect x="490" y="403" width="3" height="12" fill="#2962ff"/>
<rect x="491" y="404" width="1" height="10" fill="#0c3fb3"/>
<rect x="496" y="361" width="1" height="43" fill="#2962ff"/>
<rect x="495" y="381" width="3" height="23" fill="#2962ff"/>
<rect x="496" y="382" width="1" height="21" fill="#0c3fb3"/>
<rect x="502" y="357" width="1" height="31" fill="#2962ff"/>
<rect x="501" y="370" width="3" height="12" fill="#2962ff"/>
<rect x="502" y="371" width="1" height="10" fill="#0c3fb3"/>
<rect x="507" y="359" width="1" height="22" fill="#673ab7"/>
<rect x="506" y="370" width="3" height="6" fill="#673ab7"/>
<rect x="507" y="371" width="1" height="4" fill="#eaf1f9"/>
<rect x="513" y="368" width="1" height="29" fill="#2962ff"/>
<rect x="512" y="369" width="3" height="7" fill="#2962ff"/>
<rect x="513" y="370" width="1" height="5" fill="#0c3fb3"/>
<rect x="518" y="353" width="1" height="38" fill="#2962ff"/>
<rect x="517" y="368" width="3" height="2" fill="#2962ff"/>
<rect x="524" y="347" width="1" height="32" fill="#2962ff"/>
<rect x="523" y="358" width="3" height="11" fill="#2962ff"/>
<rect x="524" y="359" width="1" height="9" fill="#0c3fb3"/>
<rect x="529" y="346" width="1" height="32" fill="#673ab7"/>
<rect x="528" y="358" width="3" height="4" fill="#673ab7"/>
<rect x="529" y="359" width="1" height="2" fill="#eaf1f9"/>
<rect x="535" y="321" width="1" height="43" fill="#2962ff"/>
<rect x="534" y="329" width="3" height="33" fill="#2962ff"/>
<rect x="535" y="330" width="1" height="31" fill="#0c3fb3"/>
<rect x="540" y="320" width="1" height="23" fill="#2962ff"/>
<rect x="539" y="323" width="3" height="7" fill="#2962ff"/>
<rect x="540" y="324" width="1" height="5" fill="#0c3fb3"/>
<rect x="546" y="306" width="1" height="48" fill="#673ab7"/>
<rect x="545" y="323" width="3" height="31" fill="#673ab7"/>
<rect x="546" y="324" width="1" height="29" fill="#eaf1f9"/>
<rect x="551" y="293" width="1" height="61" fill="#2962ff"/>
<rect x="550" y="305" width="3" height="49" fill="#2962ff"/>
<rect x="551" y="306" width="1" height="47" fill="#0c3fb3"/>
<rect x="557" y="298" width="1" height="30" fill="#673ab7"/>
<rect x="556" y="305" width="3" height="21" fill="#673ab7"/>
<rect x="557" y="306" width="1" height="19" fill="#eaf1f9"/>
<rect x="562" y="316" width="1" height="27" fill="#673ab7"/>
<rect x="561" y="326" width="3" height="6" fill="#673ab7"/>
<rect x="562" y="327" width="1" height="4" fill="#eaf1f9"/>
<rect x="568" y="314" width="1" height="38" fill="#2962ff"/>
<rect x="567" y="328" width="3" height="4" fill="#2962ff"/>
<rect x="568" y="329" width="1" height="2" fill="#0c3fb3"/>
<rect x="573" y="326" width="1" height="42" fill="#673ab7"/>
<rect x="572" y="328" width="3" height="22" fill="#673ab7"/>
<rect x="573" y="329" width="1" height="20" fill="#eaf1f9"/>
<rect x="578" y="334" width="1" height="23" fill="#2962ff"/>
<rect x="577" y="348" width="3" height="3" fill="#2962ff"/>
<rect x="578" y="349" width="1" height="1" fill="#0c3fb3"/>
<rect x="584" y="336" width="1" height="17" fill="#673ab7"/>
<rect x="583" y="348" width="3" height="3" fill="#673ab7"/>
<rect x="584" y="349" width="1" height="1" fill="#eaf1f9"/>
<rect x="589" y="298" width="1" height="54" fill="#2962ff"/>
<rect x="588" y="314" width="3" height="37" fill="#2962ff"/>
<rect x="589" y="315" width="1" height="35" fill="#0c3fb3"/>
<rect x="595" y="305" width="1" height="17" fill="#673ab7"/>
<rect x="594" y="314" width="3" height="4" fill="#673ab7"/>
<rect x="595" y="315" width="1" height="2" fill="#eaf1f9"/>
<rect x="600" y="314" width="1" height="29" fill="#673ab7"/>
<rect x="599" y="317" width="3" height="18" fill="#673ab7"/>
<rect x="600" y="318" width="1" height="16" fill="#eaf1f9"/>
<rect x="606" y="331" width="1" height="25" fill="#673ab7"/>
<rect x="605" y="335" width="3" height="21" fill="#673ab7"/>
<rect x="606" y="336" width="1" height="19" fill="#eaf1f9"/>
<rect x="611" y="339" width="1" height="28" fill="#2962ff"/>
<rect x="610" y="344" width="3" height="12" fill="#2962ff"/>
<rect x="611" y="345" width="1" height="10" fill="#0c3fb3"/>
<rect x="617" y="332" width="1" height="30" fill="#673ab7"/>
<rect x="616" y="344" width="3" height="14" fill="#673ab7"/>
<rect x="617" y="345" width="1" height="12" fill="#eaf1f9"/>
<rect x="622" y="349" width="1" height="40" fill="#673ab7"/>
<rect x="621" y="357" width="3" height="31" fill="#673ab7"/>
<rect x="622" y="358" width="1" height="29" fill="#eaf1f9"/>
<rect x="628" y="385" width="1" height="38" fill="#673ab7"/>
<rect x="627" y="387" width="3" height="36" fill="#673ab7"/>
<rect x="628" y="388" width="1" height="34" fill="#eaf1f9"/>
<rect x="633" y="412" width="1" height="23" fill="#673ab7"/>
<rect x="632" y="422" width="3" height="8" fill="#673ab7"/>
<rect x="633" y="423" width="1" height="6" fill="#eaf1f9"/>
<rect x="639" y="400" width="1" height="42" fill="#2962ff"/>
<rect x="638" y="411" width="3" height="19" fill="#2962ff"/>
<rect x="639" y="412" width="1" height="17" fill="#0c3fb3"/>
<rect x="644" y="412" width="1" height="20" fill="#673ab7"/>
<rect x="643" y="412" width="3" height="10" fill="#673ab7"/>
<rect x="644" y="413" width="1" height="8" fill="#eaf1f9"/>
<rect x="650" y="404" width="1" height="21" fill="#2962ff"/>
<rect x="649" y="412" width="3" height="10" fill="#2962ff"/>
<rect x="650" y="413" width="1" height="8" fill="#0c3fb3"/>
<rect x="655" y="395" width="1" height="42" fill="#673ab7"/>
<rect x="654" y="412" width="3" height="24" fill="#673ab7"/>
<rect x="655" y="413" width="1" height="22" fill="#eaf1f9"/>
<rect x="661" y="435" width="1" height="24" fill="#673ab7"/>
<rect x="660" y="435" width="3" height="10" fill="#673ab7"/>
<rect x="661" y="436" width="1" height="8" fill="#eaf1f9"/>
<rect x="666" y="431" width="1" height="35" fill="#673ab7"/>
<rect x="665" y="444" width="3" height="14" fill="#673ab7"/>
<rect x="666" y="445" width="1" height="12" fill="#eaf1f9"/>
<rect x="672" y="448" width="1" height="24" fill="#673ab7"/>
<rect x="671" y="458" width="3" height="8" fill="#673ab7"/>
<rect x="672" y="459" width="1" height="6" fill="#eaf1f9"/>
<rect x="677" y="465" width="1" height="33" fill="#673ab7"/>
<rect x="676" y="466" width="3" height="20" fill="#673ab7"/>
<rect x="677" y="467" width="1" height="18" fill="#eaf1f9"/>
<rect x="682" y="475" width="1" height="23" fill="#673ab7"/>
<rect x="681" y="486" width="3" height="9" fill="#673ab7"/>
<rect x="682" y="487" width="1" height="7" fill="#eaf1f9"/>
<rect x="688" y="492" width="1" height="20" fill="#2962ff"/>
<rect x="687" y="493" width="3" height="1" fill="#2962ff"/>
<rect x="693" y="469" width="1" height="30" fill="#2962ff"/>
<rect x="692" y="492" width="3" height="2" fill="#2962ff"/>
<rect x="699" y="487" width="1" height="35" fill="#2962ff"/>
<rect x="698" y="489" width="3" height="3" fill="#2962ff"/>
<rect x="699" y="490" width="1" height="1" fill="#0c3fb3"/>
<rect x="704" y="482" width="1" height="25" fill="#673ab7"/>
<rect x="703" y="489" width="3" height="8" fill="#673ab7"/>
<rect x="704" y="490" width="1" height="6" fill="#eaf1f9"/>
<rect x="710" y="459" width="1" height="39" fill="#2962ff"/>
<rect x="709" y="474" width="3" height="23" fill="#2962ff"/>
<rect x="710" y="475" width="1" height="21" fill="#0c3fb3"/>
<rect x="715" y="443" width="1" height="32" fill="#2962ff"/>
<rect x="714" y="450" width="3" height="25" fill="#2962ff"/>
<rect x="715" y="451" width="1" height="23" fill="#0c3fb3"/>
<rect x="721" y="436" width="1" height="64" fill="#673ab7"/>
<rect x="720" y="450" width="3" height="50" fill="#673ab7"/>
<rect x="721" y="451" width="1" height="48" fill="#eaf1f9"/>
<rect x="726" y="474" width="1" height="28" fill="#2962ff"/>
<rect x="725" y="487" width="3" height="13" fill="#2962ff"/>
<rect x="726" y="488" width="1" height="11" fill="#0c3fb3"/>
<rect x="732" y="484" width="1" height="23" fill="#673ab7"/>
<rect x="731" y="487" width="3" height="19" fill="#673ab7"/>
<rect x="732" y="488" width="1" height="17" fill="#eaf1f9"/>
<rect x="737" y="502" width="1" height="34" fill="#673ab7"/>
<rect x="736" y="505" width="3" height="14" fill="#673ab7"/>
<rect x="737" y="506" width="1" height="12" fill="#eaf1f9"/>
<rect x="743" y="512" width="1" height="22" fill="#2962ff"/>
<rect x="742" y="515" width="3" height="4" fill="#2962ff"/>
<rect x="743" y="516" width="1" height="2" fill="#0c3fb3"/>
<rect x="748" y="507" width="1" height="27" fill="#673ab7"/>
<rect x="747" y="515" width="3" height="14" fill="#673ab7"/>
<rect x="748" y="516" width="1" height="12" fill="#eaf1f9"/>
<rect x="754" y="527" width="1" height="38" fill="#673ab7"/>
<rect x="753" y="528" width="3" height="29" fill="#673ab7"/>
<rect x="754" y="529" width="1" height="27" fill="#eaf1f9"/>
<rect x="759" y="532" width="1" height="39" fill="#673ab7"/>
<rect x="758" y="556" width="3" height="3" fill="#673ab7"/>
<rect x="759" y="557" width="1" height="1" fill="#eaf1f9"/>
<rect x="765" y="555" width="1" height="113" fill="#673ab7"/>
<rect x="764" y="558" width="3" height="110" fill="#673ab7"/>
<rect x="765" y="559" width="1" height="108" fill="#eaf1f9"/>
<rect x="770" y="643" width="1" height="151" fill="#673ab7"/>
<rect x="769" y="664" width="3" height="41" fill="#673ab7"/>
<rect x="770" y="665" width="1" height="39" fill="#eaf1f9"/>
<rect x="775" y="667" width="1" height="48" fill="#2962ff"/>
<rect x="774" y="694" width="3" height="11" fill="#2962ff"/>
<rect x="775" y="695" width="1" height="9" fill="#0c3fb3"/>
<rect x="781" y="647" width="1" height="97" fill="#2962ff"/>
<rect x="780" y="654" width="3" height="41" fill="#2962ff"/>
<rect x="781" y="655" width="1" height="39" fill="#0c3fb3"/>
<rect x="786" y="596" width="1" height="90" fill="#2962ff"/>
<rect x="785" y="596" width="3" height="59" fill="#2962ff"/>
<rect x="786" y="597" width="1" height="57" fill="#0c3fb3"/>
<rect x="792" y="565" width="1" height="55" fill="#673ab7"/>
<rect x="791" y="596" width="3" height="24" fill="#673ab7"/>
<rect x="792" y="597" width="1" height="22" fill="#eaf1f9"/>
<rect x="797" y="540" width="1" height="64" fill="#2962ff"/>
<rect x="796" y="543" width="3" height="40" fill="#2962ff"/>
<rect x="797" y="544" width="1" height="38" fill="#0c3fb3"/>
<rect x="803" y="500" width="1" height="54" fill="#2962ff"/>
<rect x="802" y="504" width="3" height="40" fill="#2962ff"/>
<rect x="803" y="505" width="1" height="38" fill="#0c3fb3"/>
<rect x="808" y="498" width="1" height="69" fill="#673ab7"/>
<rect x="807" y="504" width="3" height="38" fill="#673ab7"/>
<rect x="808" y="505" width="1" height="36" fill="#eaf1f9"/>
<rect x="814" y="527" width="1" height="70" fill="#673ab7"/>
<rect x="813" y="542" width="3" height="43" fill="#673ab7"/>
<rect x="814" y="543" width="1" height="41" fill="#eaf1f9"/>
<rect x="819" y="568" width="1" height="43" fill="#673ab7"/>
<rect x="818" y="584" width="3" height="20" fill="#673ab7"/>
<rect x="819" y="585" width="1" height="18" fill="#eaf1f9"/>
<rect x="825" y="597" width="1" height="23" fill="#673ab7"/>
<rect x="824" y="603" width="3" height="9" fill="#673ab7"/>
<rect x="825" y="604" width="1" height="7" fill="#eaf1f9"/>
<rect x="830" y="579" width="1" height="59" fill="#673ab7"/>
<rect x="829" y="611" width="3" height="24" fill="#673ab7"/>
<rect x="830" y="612" width="1" height="22" fill="#eaf1f9"/>
<rect x="836" y="591" width="1" height="54" fill="#2962ff"/>
<rect x="835" y="600" width="3" height="35" fill="#2962ff"/>
<rect x="836" y="601" width="1" height="33" fill="#0c3fb3"/>
<rect x="841" y="528" width="1" height="83" fill="#2962ff"/>
<rect x="840" y="542" width="3" height="59" fill="#2962ff"/>
<rect x="841" y="543" width="1" height="57" fill="#0c3fb3"/>
<rect x="847" y="532" width="1" height="55" fill="#673ab7"/>
<rect x="846" y="542" width="3" height="38" fill="#673ab7"/>
<rect x="847" y="543" width="1" height="36" fill="#eaf1f9"/>
<rect x="852" y="513" width="1" height="67" fill="#2962ff"/>
<rect x="851" y="533" width="3" height="47" fill="#2962ff"/>
<rect x="852" y="534" width="1" height="45" fill="#0c3fb3"/>
<rect x="858" y="520" width="1" height="40" fill="#673ab7"/>
<rect x="857" y="533" width="3" height="11" fill="#673ab7"/>
<rect x="858" y="534" width="1" height="9" fill="#eaf1f9"/>
<rect x="863" y="534" width="1" height="44" fill="#673ab7"/>
<rect x="862" y="543" width="3" height="27" fill="#673ab7"/>
<rect x="863" y="544" width="1" height="25" fill="#eaf1f9"/>
<rect x="869" y="539" width="1" height="43" fill="#2962ff"/>
<rect x="868" y="565" width="3" height="5" fill="#2962ff"/>
<rect x="869" y="566" width="1" height="3" fill="#0c3fb3"/>
<rect x="874" y="545" width="1" height="65" fill="#2962ff"/>
<rect x="873" y="549" width="3" height="16" fill="#2962ff"/>
<rect x="874" y="550" width="1" height="14" fill="#0c3fb3"/>
<rect x="879" y="521" width="1" height="38" fill="#673ab7"/>
<rect x="878" y="549" width="3" height="6" fill="#673ab7"/>
<rect x="879" y="550" width="1" height="4" fill="#eaf1f9"/>
<rect x="885" y="498" width="1" height="58" fill="#2962ff"/>
<rect x="884" y="505" width="3" height="50" fill="#2962ff"/>
<rect x="885" y="506" width="1" height="48" fill="#0c3fb3"/>
<rect x="890" y="462" width="1" height="53" fill="#2962ff"/>
<rect x="889" y="464" width="3" height="42" fill="#2962ff"/>
<rect x="890" y="465" width="1" height="40" fill="#0c3fb3"/>
<rect x="896" y="460" width="1" height="25" fill="#673ab7"/>
<rect x="895" y="464" width="3" height="18" fill="#673ab7"/>
<rect x="896" y="465" width="1" height="16" fill="#eaf1f9"/>
<rect x="901" y="466" width="1" height="30" fill="#2962ff"/>
<rect x="900" y="468" width="3" height="14" fill="#2962ff"/>
<rect x="901" y="469" width="1" height="12" fill="#0c3fb3"/>
<rect x="907" y="468" width="1" height="38" fill="#673ab7"/>
<rect x="906" y="468" width="3" height="38" fill="#673ab7"/>
<rect x="907" y="469" width="1" height="36" fill="#eaf1f9"/>
<rect x="912" y="480" width="1" height="33" fill="#2962ff"/>
<rect x="911" y="501" width="3" height="6" fill="#2962ff"/>
<rect x="912" y="502" width="1" height="4" fill="#0c3fb3"/>
<rect x="918" y="481" width="1" height="45" fill="#673ab7"/>
<rect x="917" y="501" width="3" height="25" fill="#673ab7"/>
<rect x="918" y="502" width="1" height="23" fill="#eaf1f9"/>
<rect x="923" y="517" width="1" height="69" fill="#673ab7"/>
<rect x="922" y="525" width="3" height="60" fill="#673ab7"/>
<rect x="923" y="526" width="1" height="58" fill="#eaf1f9"/>
<rect x="929" y="528" width="1" height="60" fill="#2962ff"/>
<rect x="928" y="528" width="3" height="57" fill="#2962ff"/>
<rect x="929" y="529" width="1" height="55" fill="#0c3fb3"/>
<rect x="934" y="487" width="1" height="64" fill="#2962ff"/>
<rect x="933" y="494" width="3" height="36" fill="#2962ff"/>
<rect x="934" y="495" width="1" height="34" fill="#0c3fb3"/>
<rect x="940" y="472" width="1" height="43" fill="#2962ff"/>
<rect x="939" y="486" width="3" height="9" fill="#2962ff"/>
<rect x="940" y="487" width="1" height="7" fill="#0c3fb3"/>
<rect x="945" y="480" width="1" height="60" fill="#673ab7"/>
<rect x="944" y="486" width="3" height="48" fill="#673ab7"/>
<rect x="945" y="487" width="1" height="46" fill="#eaf1f9"/>
<rect x="951" y="438" width="1" height="96" fill="#2962ff"/>
<rect x="950" y="442" width="3" height="92" fill="#2962ff"/>
<rect x="951" y="443" width="1" height="90" fill="#0c3fb3"/>
<rect x="956" y="406" width="1" height="54" fill="#2962ff"/>
<rect x="955" y="410" width="3" height="32" fill="#2962ff"/>
<rect x="956" y="411" width="1" height="30" fill="#0c3fb3"/>
<rect x="962" y="410" width="1" height="32" fill="#673ab7"/>
<rect x="961" y="410" width="3" height="22" fill="#673ab7"/>
<rect x="962" y="411" width="1" height="20" fill="#eaf1f9"/>
<rect x="967" y="362" width="1" height="74" fill="#2962ff"/>
<rect x="966" y="403" width="3" height="29" fill="#2962ff"/>
<rect x="967" y="404" width="1" height="27" fill="#0c3fb3"/>
<rect x="972" y="384" width="1" height="27" fill="#2962ff"/>
<rect x="971" y="391" width="3" height="13" fill="#2962ff"/>
<rect x="972" y="392" width="1" height="11" fill="#0c3fb3"/>
<rect x="978" y="380" width="1" height="50" fill="#673ab7"/>
<rect x="977" y="391" width="3" height="13" fill="#673ab7"/>
<rect x="978" y="392" width="1" height="11" fill="#eaf1f9"/>
<rect x="983" y="382" width="1" height="24" fill="#2962ff"/>
<rect x="982" y="382" width="3" height="23" fill="#2962ff"/>
<rect x="983" y="383" width="1" height="21" fill="#0c3fb3"/>
<rect x="989" y="394" width="1" height="32" fill="#673ab7"/>
<rect x="988" y="398" width="3" height="17" fill="#673ab7"/>
<rect x="989" y="399" width="1" height="15" fill="#eaf1f9"/>
<rect x="994" y="394" width="1" height="21" fill="#2962ff"/>
<rect x="993" y="398" width="3" height="17" fill="#2962ff"/>
<rect x="994" y="399" width="1" height="15" fill="#0c3fb3"/>
<rect x="1000" y="348" width="1" height="54" fill="#2962ff"/>
<rect x="999" y="355" width="3" height="44" fill="#2962ff"/>
<rect x="1000" y="356" width="1" height="42" fill="#0c3fb3"/>
<rect x="1005" y="330" width="1" height="27" fill="#2962ff"/>
<rect x="1004" y="339" width="3" height="17" fill="#2962ff"/>
<rect x="1005" y="340" width="1" height="15" fill="#0c3fb3"/>
<rect x="1011" y="336" width="1" height="19" fill="#673ab7"/>
<rect x="1010" y="339" width="3" height="16" fill="#673ab7"/>
<rect x="1011" y="340" width="1" height="14" fill="#eaf1f9"/>
<rect x="1016" y="339" width="1" height="45" fill="#673ab7"/>
<rect x="1015" y="345" width="3" height="35" fill="#673ab7"/>
<rect x="1016" y="346" width="1" height="33" fill="#eaf1f9"/>
<rect x="1022" y="353" width="1" height="30" fill="#673ab7"/>
<rect x="1021" y="379" width="3" height="4" fill="#673ab7"/>
<rect x="1022" y="380" width="1" height="2" fill="#eaf1f9"/>
<rect x="1027" y="347" width="1" height="48" fill="#2962ff"/>
<rect x="1026" y="354" width="3" height="29" fill="#2962ff"/>
<rect x="1027" y="355" width="1" height="27" fill="#0c3fb3"/>
<rect x="1033" y="290" width="1" height="65" fill="#2962ff"/>
<rect x="1032" y="307" width="3" height="48" fill="#2962ff"/>
<rect x="1033" y="308" width="1" height="46" fill="#0c3fb3"/>
<rect x="1038" y="292" width="1" height="43" fill="#2962ff"/>
<rect x="1037" y="298" width="3" height="10" fill="#2962ff"/>
<rect x="1038" y="299" width="1" height="8" fill="#0c3fb3"/>
<rect x="1044" y="281" width="1" height="47" fill="#673ab7"/>
<rect x="1043" y="298" width="3" height="23" fill="#673ab7"/>
<rect x="1044" y="299" width="1" height="21" fill="#eaf1f9"/>
<rect x="1049" y="300" width="1" height="36" fill="#673ab7"/>
<rect x="1048" y="320" width="3" height="16" fill="#673ab7"/>
<rect x="1049" y="321" width="1" height="14" fill="#eaf1f9"/>
<rect x="1055" y="309" width="1" height="33" fill="#2962ff"/>
<rect x="1054" y="317" width="3" height="19" fill="#2962ff"/>
<rect x="1055" y="318" width="1" height="17" fill="#0c3fb3"/>
<rect x="1060" y="306" width="1" height="23" fill="#2962ff"/>
<rect x="1059" y="309" width="3" height="9" fill="#2962ff"/>
<rect x="1060" y="310" width="1" height="7" fill="#0c3fb3"/>
<rect x="1066" y="286" width="1" height="31" fill="#2962ff"/>
<rect x="1065" y="302" width="3" height="8" fill="#2962ff"/>
<rect x="1066" y="303" width="1" height="6" fill="#0c3fb3"/>
<rect x="1071" y="292" width="1" height="24" fill="#2962ff"/>
<rect x="1070" y="299" width="3" height="3" fill="#2962ff"/>
<rect x="1071" y="300" width="1" height="1" fill="#0c3fb3"/>
<rect x="1076" y="255" width="1" height="50" fill="#2962ff"/>
<rect x="1075" y="275" width="3" height="25" fill="#2962ff"/>
<rect x="1076" y="276" width="1" height="23" fill="#0c3fb3"/>
<rect x="1082" y="255" width="1" height="26" fill="#2962ff"/>
<rect x="1081" y="261" width="3" height="15" fill="#2962ff"/>
<rect x="1082" y="262" width="1" height="13" fill="#0c3fb3"/>
<rect x="1087" y="259" width="1" height="70" fill="#673ab7"/>
<rect x="1086" y="261" width="3" height="64" fill="#673ab7"/>
<rect x="1087" y="262" width="1" height="62" fill="#eaf1f9"/>
<rect x="1093" y="312" width="1" height="26" fill="#673ab7"/>
<rect x="1092" y="324" width="3" height="10" fill="#673ab7"/>
<rect x="1093" y="325" width="1" height="8" fill="#eaf1f9"/>
<rect x="1098" y="307" width="1" height="31" fill="#2962ff"/>
<rect x="1097" y="331" width="3" height="3" fill="#2962ff"/>
<rect x="1098" y="332" width="1" height="1" fill="#0c3fb3"/>
<rect x="1104" y="312" width="1" height="35" fill="#2962ff"/>
<rect x="1103" y="322" width="3" height="10" fill="#2962ff"/>
<rect x="1104" y="323" width="1" height="8" fill="#0c3fb3"/>
<rect x="1109" y="320" width="1" height="35" fill="#673ab7"/>
<rect x="1108" y="322" width="3" height="26" fill="#673ab7"/>
<rect x="1109" y="323" width="1" height="24" fill="#eaf1f9"/>
<rect x="1115" y="331" width="1" height="40" fill="#673ab7"/>
<rect x="1114" y="348" width="3" height="12" fill="#673ab7"/>
<rect x="1115" y="349" width="1" height="10" fill="#eaf1f9"/>
<rect x="1120" y="346" width="1" height="18" fill="#2962ff"/>
<rect x="1119" y="356" width="3" height="3" fill="#2962ff"/>
<rect x="1120" y="357" width="1" height="1" fill="#0c3fb3"/>
<rect x="1126" y="348" width="1" height="8" fill="#2962ff"/>
<rect x="1125" y="353" width="3" height="3" fill="#2962ff"/>
<rect x="1126" y="354" width="1" height="1" fill="#0c3fb3"/>
<rect x="1131" y="340" width="1" height="29" fill="#673ab7"/>
<rect x="1130" y="353" width="3" height="8" fill="#673ab7"/>
<rect x="1131" y="354" width="1" height="6" fill="#eaf1f9"/>
<rect x="1137" y="337" width="1" height="32" fill="#673ab7"/>
<rect x="1136" y="361" width="3" height="5" fill="#673ab7"/>
<rect x="1137" y="362" width="1" height="3" fill="#eaf1f9"/>
<rect x="1142" y="349" width="1" height="17" fill="#2962ff"/>
<rect x="1141" y="355" width="3" height="11" fill="#2962ff"/>
<rect x="1142" y="356" width="1" height="9" fill="#0c3fb3"/>
<rect x="1148" y="342" width="1" height="25" fill="#2962ff"/>
<rect x="1147" y="348" width="3" height="8" fill="#2962ff"/>
<rect x="1148" y="349" width="1" height="6" fill="#0c3fb3"/>
<rect x="1153" y="342" width="1" height="18" fill="#673ab7"/>
<rect x="1152" y="348" width="3" height="10" fill="#673ab7"/>
<rect x="1153" y="349" width="1" height="8" fill="#eaf1f9"/>
<rect x="1159" y="347" width="1" height="48" fill="#673ab7"/>
<rect x="1158" y="357" width="3" height="22" fill="#673ab7"/>
<rect x="1159" y="358" width="1" height="20" fill="#eaf1f9"/>
<rect x="1164" y="347" width="1" height="33" fill="#2962ff"/>
<rect x="1163" y="355" width="3" height="24" fill="#2962ff"/>
<rect x="1164" y="356" width="1" height="22" fill="#0c3fb3"/>
<rect x="1169" y="349" width="1" height="53" fill="#673ab7"/>
<rect x="1168" y="355" width="3" height="38" fill="#673ab7"/>
<rect x="1169" y="356" width="1" height="36" fill="#eaf1f9"/>
<rect x="1175" y="344" width="1" height="66" fill="#2962ff"/>
<rect x="1174" y="346" width="3" height="47" fill="#2962ff"/>
<rect x="1175" y="347" width="1" height="45" fill="#0c3fb3"/>
<rect x="1180" y="315" width="1" height="32" fill="#2962ff"/>
<rect x="1179" y="322" width="3" height="25" fill="#2962ff"/>
<rect x="1180" y="323" width="1" height="23" fill="#0c3fb3"/>
<rect x="1186" y="318" width="1" height="23" fill="#673ab7"/>
<rect x="1185" y="322" width="3" height="10" fill="#673ab7"/>
<rect x="1186" y="323" width="1" height="8" fill="#eaf1f9"/>
<rect x="1191" y="323" width="1" height="20" fill="#673ab7"/>
<rect x="1190" y="331" width="3" height="1" fill="#673ab7"/>
<rect x="1197" y="306" width="1" height="40" fill="#2962ff"/>
<rect x="1196" y="315" width="3" height="16" fill="#2962ff"/>
<rect x="1197" y="316" width="1" height="14" fill="#0c3fb3"/>
<rect x="1202" y="305" width="1" height="27" fill="#673ab7"/>
<rect x="1201" y="315" width="3" height="17" fill="#673ab7"/>
<rect x="1202" y="316" width="1" height="15" fill="#eaf1f9"/>
<rect x="1208" y="295" width="1" height="37" fill="#2962ff"/>
<rect x="1207" y="319" width="3" height="13" fill="#2962ff"/>
<rect x="1208" y="320" width="1" height="11" fill="#0c3fb3"/>
<rect x="1213" y="292" width="1" height="34" fill="#2962ff"/>
<rect x="1212" y="295" width="3" height="25" fill="#2962ff"/>
<rect x="1213" y="296" width="1" height="23" fill="#0c3fb3"/>
<rect x="1219" y="257" width="1" height="47" fill="#2962ff"/>
<rect x="1218" y="280" width="3" height="15" fill="#2962ff"/>
<rect x="1219" y="281" width="1" height="13" fill="#0c3fb3"/>
<rect x="1224" y="267" width="1" height="22" fill="#2962ff"/>
<rect x="1223" y="269" width="3" height="11" fill="#2962ff"/>
<rect x="1224" y="270" width="1" height="9" fill="#0c3fb3"/>
<rect x="1230" y="265" width="1" height="18" fill="#2962ff"/>
<rect x="1229" y="267" width="3" height="3" fill="#2962ff"/>
<rect x="1230" y="268" width="1" height="1" fill="#0c3fb3"/>
<rect x="1235" y="254" width="1" height="32" fill="#673ab7"/>
<rect x="1234" y="268" width="3" height="5" fill="#673ab7"/>
<rect x="1235" y="269" width="1" height="3" fill="#eaf1f9"/>
<rect x="1241" y="263" width="1" height="39" fill="#673ab7"/>
<rect x="1240" y="272" width="3" height="11" fill="#673ab7"/>
<rect x="1241" y="273" width="1" height="9" fill="#eaf1f9"/>
<rect x="1246" y="265" width="1" height="32" fill="#2962ff"/>
<rect x="1245" y="266" width="3" height="17" fill="#2962ff"/>
<rect x="1246" y="267" width="1" height="15" fill="#0c3fb3"/>
<rect x="1252" y="259" width="1" height="22" fill="#2962ff"/>
<rect x="1251" y="264" width="3" height="2" fill="#2962ff"/>
<rect x="1257" y="262" width="1" height="19" fill="#673ab7"/>
<rect x="1256" y="264" width="3" height="4" fill="#673ab7"/>
<rect x="1257" y="265" width="1" height="2" fill="#eaf1f9"/>
<rect x="1263" y="262" width="1" height="21" fill="#2962ff"/>
<rect x="1262" y="279" width="3" height="3" fill="#2962ff"/>
<rect x="1263" y="280" width="1" height="1" fill="#0c3fb3"/>
<rect x="1268" y="274" width="1" height="22" fill="#673ab7"/>
<rect x="1267" y="279" width="3" height="9" fill="#673ab7"/>
<rect x="1268" y="280" width="1" height="7" fill="#eaf1f9"/>
<rect x="1273" y="268" width="1" height="31" fill="#2962ff"/>
<rect x="1272" y="274" width="3" height="15" fill="#2962ff"/>
<rect x="1273" y="275" width="1" height="13" fill="#0c3fb3"/>
<rect x="1279" y="266" width="1" height="46" fill="#673ab7"/>
<rect x="1278" y="275" width="3" height="37" fill="#673ab7"/>
<rect x="1279" y="276" width="1" height="35" fill="#eaf1f9"/>
<rect x="1284" y="301" width="1" height="57" fill="#673ab7"/>
<rect x="1283" y="312" width="3" height="46" fill="#673ab7"/>
<rect x="1284" y="313" width="1" height="44" fill="#eaf1f9"/>
<rect x="1290" y="349" width="1" height="19" fill="#673ab7"/>
<rect x="1289" y="355" width="3" height="10" fill="#673ab7"/>
<rect x="1290" y="356" width="1" height="8" fill="#eaf1f9"/>
<rect x="1295" y="345" width="1" height="34" fill="#2962ff"/>
<rect x="1294" y="357" width="3" height="8" fill="#2962ff"/>
<rect x="1295" y="358" width="1" height="6" fill="#0c3fb3"/>
<rect x="1301" y="341" width="1" height="18" fill="#2962ff"/>
<rect x="1300" y="351" width="3" height="7" fill="#2962ff"/>
<rect x="1301" y="352" width="1" height="5" fill="#0c3fb3"/>
<rect x="1306" y="319" width="1" height="35" fill="#2962ff"/>
<rect x="1305" y="338" width="3" height="14" fill="#2962ff"/>
<rect x="1306" y="339" width="1" height="12" fill="#0c3fb3"/>
<rect x="1312" y="333" width="1" height="24" fill="#673ab7"/>
<rect x="1311" y="338" width="3" height="17" fill="#673ab7"/>
<rect x="1312" y="339" width="1" height="15" fill="#eaf1f9"/>
<rect x="1317" y="330" width="1" height="31" fill="#2962ff"/>
<rect x="1316" y="333" width="3" height="22" fill="#2962ff"/>
<rect x="1317" y="334" width="1" height="20" fill="#0c3fb3"/>
<rect x="1323" y="300" width="1" height="39" fill="#2962ff"/>
<rect x="1322" y="325" width="3" height="8" fill="#2962ff"/>
<rect x="1323" y="326" width="1" height="6" fill="#0c3fb3"/>
<rect x="1328" y="323" width="1" height="49" fill="#673ab7"/>
<rect x="1327" y="325" width="3" height="36" fill="#673ab7"/>
<rect x="1328" y="326" width="1" height="34" fill="#eaf1f9"/>
<rect x="1334" y="350" width="1" height="28" fill="#673ab7"/>
<rect x="1333" y="360" width="3" height="12" fill="#673ab7"/>
<rect x="1334" y="361" width="1" height="10" fill="#eaf1f9"/>
<rect x="1339" y="357" width="1" height="34" fill="#2962ff"/>
<rect x="1338" y="359" width="3" height="13" fill="#2962ff"/>
<rect x="1339" y="360" width="1" height="11" fill="#0c3fb3"/>
<rect x="1345" y="355" width="1" height="10" fill="#2962ff"/>
<rect x="1344" y="358" width="3" height="2" fill="#2962ff"/>
<rect x="1350" y="331" width="1" height="42" fill="#2962ff"/>
<rect x="1349" y="341" width="3" height="17" fill="#2962ff"/>
<rect x="1350" y="342" width="1" height="15" fill="#0c3fb3"/>
<rect x="1356" y="334" width="1" height="26" fill="#673ab7"/>
<rect x="1355" y="341" width="3" height="17" fill="#673ab7"/>
<rect x="1356" y="342" width="1" height="15" fill="#eaf1f9"/>
<rect x="1361" y="350" width="1" height="21" fill="#673ab7"/>
<rect x="1360" y="358" width="3" height="8" fill="#673ab7"/>
<rect x="1361" y="359" width="1" height="6" fill="#eaf1f9"/>
<rect x="1366" y="358" width="1" height="30" fill="#673ab7"/>
<rect x="1365" y="366" width="3" height="20" fill="#673ab7"/>
<rect x="1366" y="367" width="1" height="18" fill="#eaf1f9"/>
<rect x="1372" y="352" width="1" height="37" fill="#2962ff"/>
<rect x="1371" y="353" width="3" height="33" fill="#2962ff"/>
<rect x="1372" y="354" width="1" height="31" fill="#0c3fb3"/>
<rect x="1377" y="332" width="1" height="33" fill="#673ab7"/>
<rect x="1376" y="353" width="3" height="12" fill="#673ab7"/>
<rect x="1377" y="354" width="1" height="10" fill="#eaf1f9"/>
<rect x="1383" y="346" width="1" height="32" fill="#2962ff"/>
<rect x="1382" y="362" width="3" height="3" fill="#2962ff"/>
<rect x="1383" y="363" width="1" height="1" fill="#0c3fb3"/>
<rect x="1388" y="360" width="1" height="28" fill="#673ab7"/>
<rect x="1387" y="362" width="3" height="21" fill="#673ab7"/>
<rect x="1388" y="363" width="1" height="19" fill="#eaf1f9"/>
<rect x="1394" y="357" width="1" height="27" fill="#2962ff"/>
<rect x="1393" y="358" width="3" height="25" fill="#2962ff"/>
<rect x="1394" y="359" width="1" height="23" fill="#0c3fb3"/>
<rect x="1399" y="357" width="1" height="14" fill="#673ab7"/>
<rect x="1398" y="358" width="3" height="6" fill="#673ab7"/>
<rect x="1399" y="359" width="1" height="4" fill="#eaf1f9"/>
<rect x="1405" y="352" width="1" height="63" fill="#673ab7"/>
<rect x="1404" y="363" width="3" height="52" fill="#673ab7"/>
<rect x="1405" y="364" width="1" height="50" fill="#eaf1f9"/>
<rect x="1410" y="405" width="1" height="15" fill="#2962ff"/>
<rect x="1409" y="410" width="3" height="5" fill="#2962ff"/>
<rect x="1410" y="411" width="1" height="3" fill="#0c3fb3"/>
<rect x="1416" y="385" width="1" height="27" fill="#2962ff"/>
<rect x="1415" y="388" width="3" height="22" fill="#2962ff"/>
<rect x="1416" y="389" width="1" height="20" fill="#0c3fb3"/>
<rect x="1421" y="340" width="1" height="53" fill="#2962ff"/>
<rect x="1420" y="340" width="3" height="49" fill="#2962ff"/>
<rect x="1421" y="341" width="1" height="47" fill="#0c3fb3"/>
<rect x="1427" y="318" width="1" height="39" fill="#2962ff"/>
<rect x="1426" y="322" width="3" height="19" fill="#2962ff"/>
<rect x="1427" y="323" width="1" height="17" fill="#0c3fb3"/>
<rect x="1432" y="317" width="1" height="17" fill="#673ab7"/>
<rect x="1431" y="322" width="3" height="8" fill="#673ab7"/>
<rect x="1432" y="323" width="1" height="6" fill="#eaf1f9"/>
<rect x="1438" y="323" width="1" height="43" fill="#673ab7"/>
<rect x="1437" y="329" width="3" height="26" fill="#673ab7"/>
<rect x="1438" y="330" width="1" height="24" fill="#eaf1f9"/>
<rect x="1443" y="336" width="1" height="26" fill="#2962ff"/>
<rect x="1442" y="341" width="3" height="14" fill="#2962ff"/>
<rect x="1443" y="342" width="1" height="12" fill="#0c3fb3"/>
<rect x="1449" y="322" width="1" height="21" fill="#2962ff"/>
<rect x="1448" y="323" width="3" height="19" fill="#2962ff"/>
<rect x="1449" y="324" width="1" height="17" fill="#0c3fb3"/>
</g>
<text x="1674.5" y="23" text-anchor="end" font-size="11.8" fill="#673ab7">0.764(1.33278)</text>
<text x="1674.5" y="169" text-anchor="end" font-size="11.8" fill="#673ab7">0.618(1.27575)</text>
<text x="1674.5" y="287" text-anchor="end" font-size="11.8" fill="#673ab7">0.5(1.22967)</text>
<text x="1674.5" y="405" text-anchor="end" font-size="11.8" fill="#673ab7">0.382(1.18358)</text>
<text x="1674.5" y="551" text-anchor="end" font-size="11.8" fill="#673ab7">0.236(1.12655)</text>
<text x="1674.5" y="644" text-anchor="end" font-size="11.8" fill="#673ab7">0.144(1.09061)</text>
<text x="1674.5" y="788" text-anchor="end" font-size="11.8" fill="#673ab7">0(1.03437)</text>
<text x="1735.2" y="14.1" text-anchor="end" font-size="11.4" fill="#131722">1.34000</text>
<text x="1735.2" y="65.4" text-anchor="end" font-size="11.4" fill="#131722">1.32000</text>
<text x="1735.2" y="116.7" text-anchor="end" font-size="11.4" fill="#131722">1.30000</text>
<text x="1735.2" y="168.0" text-anchor="end" font-size="11.4" fill="#131722">1.28000</text>
<text x="1735.2" y="219.3" text-anchor="end" font-size="11.4" fill="#131722">1.26000</text>
<text x="1735.2" y="270.6" text-anchor="end" font-size="11.4" fill="#131722">1.24000</text>
<text x="1735.2" y="321.9" text-anchor="end" font-size="11.4" fill="#131722">1.22000</text>
<text x="1735.2" y="373.2" text-anchor="end" font-size="11.4" fill="#131722">1.20000</text>
<text x="1735.2" y="424.5" text-anchor="end" font-size="11.4" fill="#131722">1.18000</text>
<text x="1735.2" y="475.8" text-anchor="end" font-size="11.4" fill="#131722">1.16000</text>
<text x="1735.2" y="527.1" text-anchor="end" font-size="11.4" fill="#131722">1.14000</text>
<text x="1735.2" y="578.4" text-anchor="end" font-size="11.4" fill="#131722">1.12000</text>
<text x="1735.2" y="629.7" text-anchor="end" font-size="11.4" fill="#131722">1.10000</text>
<text x="1735.2" y="681.0" text-anchor="end" font-size="11.4" fill="#131722">1.08000</text>
<text x="1735.2" y="732.3" text-anchor="end" font-size="11.4" fill="#131722">1.06000</text>
<text x="1735.2" y="783.6" text-anchor="end" font-size="11.4" fill="#131722">1.04000</text>
<text x="1735.2" y="834.9" text-anchor="end" font-size="11.4" fill="#131722">1.02000</text>
<rect x="1683" y="230" width="59" height="17" rx="2" fill="#7b1fa2"/>
<rect x="1683" y="230" width="4" height="17" fill="#7b1fa2"/>
<text x="1735.2" y="242.7" text-anchor="end" font-size="11.4" font-weight="bold" fill="#fff">1.25000</text>
<rect x="1683" y="247" width="59" height="17" rx="2" fill="#000000"/>
<rect x="1683" y="247" width="4" height="17" fill="#000000"/>
<text x="1735.2" y="259.7" text-anchor="end" font-size="11.4" font-weight="bold" fill="#fff">1.24467</text>
<rect x="1683" y="294" width="59" height="17" rx="2" fill="#f23645"/>
<rect x="1683" y="294" width="4" height="17" fill="#f23645"/>
<text x="1735.2" y="306.7" text-anchor="end" font-size="11.4" font-weight="bold" fill="#fff">1.22634</text>
<rect x="1683" y="336" width="59" height="17" rx="2" fill="#000000"/>
<rect x="1683" y="336" width="4" height="17" fill="#000000"/>
<text x="1735.2" y="348.7" text-anchor="end" font-size="11.4" font-weight="bold" fill="#fff">1.21000</text>
<rect x="1683" y="361" width="59" height="17" rx="2" fill="#0c3299"/>
<rect x="1683" y="361" width="4" height="17" fill="#0c3299"/>
<text x="1735.2" y="373.7" text-anchor="end" font-size="11.4" font-weight="bold" fill="#fff">1.20000</text>
<text x="80.6" y="855.2" text-anchor="middle" font-size="11.7" fill="#131722">Apr</text>
<text x="195.3" y="855.2" text-anchor="middle" font-size="11.7" fill="#131722">May</text>
<text x="316.1" y="855.2" text-anchor="middle" font-size="11.7" fill="#131722">Jun</text>
<text x="436.5" y="855.2" text-anchor="middle" font-size="11.7" fill="#131722">Jul</text>
<text x="551.2" y="855.2" text-anchor="middle" font-size="11.7" fill="#131722">Aug</text>
<text x="677.2" y="855.2" text-anchor="middle" font-size="11.7" fill="#131722">Sep</text>
<text x="797.4" y="855.2" text-anchor="middle" font-size="11.7" fill="#131722">Oct</text>
<text x="912.4" y="855.2" text-anchor="middle" font-size="11.7" fill="#131722">Nov</text>
<text x="1032.8" y="855.2" text-anchor="middle" font-size="11.7" fill="#131722">Dec</text>
<text x="1153.2" y="855.2" text-anchor="middle" font-size="11.7" font-weight="bold" fill="#131722">2023</text>
<text x="1273.6" y="855.2" text-anchor="middle" font-size="11.7" fill="#131722">Feb</text>
<text x="1383.2" y="855.2" text-anchor="middle" font-size="11.7" fill="#131722">Mar</text>
<text x="1508.9" y="855.2" text-anchor="middle" font-size="11.7" fill="#131722">Apr</text>
<text x="1618.3" y="855.2" text-anchor="middle" font-size="11.7" fill="#131722">May</text>
<text x="2.3" y="15.7" font-size="14.6" fill="#131722"><tspan x="2.3" textLength="93.3" lengthAdjust="spacingAndGlyphs">British Pound</tspan><tspan> </tspan><tspan x="104.0">/</tspan><tspan> </tspan><tspan x="114.6" textLength="75.7" lengthAdjust="spacingAndGlyphs">U.S. Dollar</tspan><tspan> </tspan><tspan x="194.75">·</tspan><tspan> </tspan><tspan x="203.6" textLength="17.0" lengthAdjust="spacingAndGlyphs">1D</tspan><tspan> </tspan><tspan x="225.15">·</tspan><tspan> </tspan><tspan x="233.9" textLength="80.9" lengthAdjust="spacingAndGlyphs">FOREX.com</tspan></text>
<rect x="0" y="24" width="98" height="23" fill="#eaf1f9" fill-opacity="0.55"/>
<rect x="0" y="47" width="51" height="46" fill="#eaf1f9" fill-opacity="0.55"/>
<rect x="2.5" y="96.5" width="28" height="20" rx="3" fill="#eaf1f9" fill-opacity="0.75" stroke="#d5d9e2" stroke-width="1"/>
<text x="2.3" y="38.8" font-size="13" fill="#a9acb6">Watermark</text>
<text x="2" y="62.3" font-size="13" textLength="16.8" lengthAdjust="spacingAndGlyphs" fill="#a9acb6">MA</text>
<text x="2" y="86.2" font-size="13" textLength="16.8" lengthAdjust="spacingAndGlyphs" fill="#a9acb6">MA</text>
<g transform="translate(84,34)" fill="none" stroke="#1c1c1c" stroke-width="1.1" stroke-linecap="round"><path d="M-8,0 C-4.5,-7.6 4.5,-7.6 8,0 C4.5,7.6 -4.5,7.6 -8,0 Z"/><circle r="2.9"/><path d="M-5.1,6.8 L6.5,-5.3" stroke="#eaf1f9" stroke-width="1.3" stroke-linecap="butt"/><path d="M-5.9,6 L5.7,-6.1"/></g>
<g transform="translate(37,58.1)" fill="none" stroke="#1c1c1c" stroke-width="1.1" stroke-linecap="round"><path d="M-8,0 C-4.5,-7.6 4.5,-7.6 8,0 C4.5,7.6 -4.5,7.6 -8,0 Z"/><circle r="2.9"/><path d="M-5.1,6.8 L6.5,-5.3" stroke="#eaf1f9" stroke-width="1.3" stroke-linecap="butt"/><path d="M-5.9,6 L5.7,-6.1"/></g>
<g transform="translate(37,81.9)" fill="none" stroke="#1c1c1c" stroke-width="1.1" stroke-linecap="round"><path d="M-8,0 C-4.5,-7.6 4.5,-7.6 8,0 C4.5,7.6 -4.5,7.6 -8,0 Z"/><circle r="2.9"/><path d="M-5.1,6.8 L6.5,-5.3" stroke="#eaf1f9" stroke-width="1.3" stroke-linecap="butt"/><path d="M-5.9,6 L5.7,-6.1"/></g>
<path d="M12.3,108.5 L16.5,104.7 L20.7,108.5" fill="none" stroke="#1a1a1a" stroke-width="1.4"/>
<g transform="translate(5.05,808.1)" fill="#131722" stroke="#fff" stroke-width="3.6" stroke-linejoin="round" paint-order="stroke"><path d="M0,0 H11.9 V14.7 H6 V5.8 H0 Z"/><circle cx="16.95" cy="2.95" r="2.95"/><path d="M23.5,0 H29.8 L23.7,14.7 H17.1 Z"/></g>
<g transform="translate(1715.5,851.5)" fill="none" stroke="#131722" stroke-width="1.05"><circle r="4.7"/><path d="M5.20,0.00 L7.40,0.00"/><path d="M4.24,4.24 L5.09,5.09"/><path d="M0.00,5.20 L0.00,7.40"/><path d="M-4.24,4.24 L-5.09,5.09"/><path d="M-5.20,0.00 L-7.40,0.00"/><path d="M-4.24,-4.24 L-5.09,-5.09"/><path d="M-0.00,-5.20 L-0.00,-7.40"/><path d="M4.24,-4.24 L5.09,-5.09"/></g>
</svg>
</body></html>
